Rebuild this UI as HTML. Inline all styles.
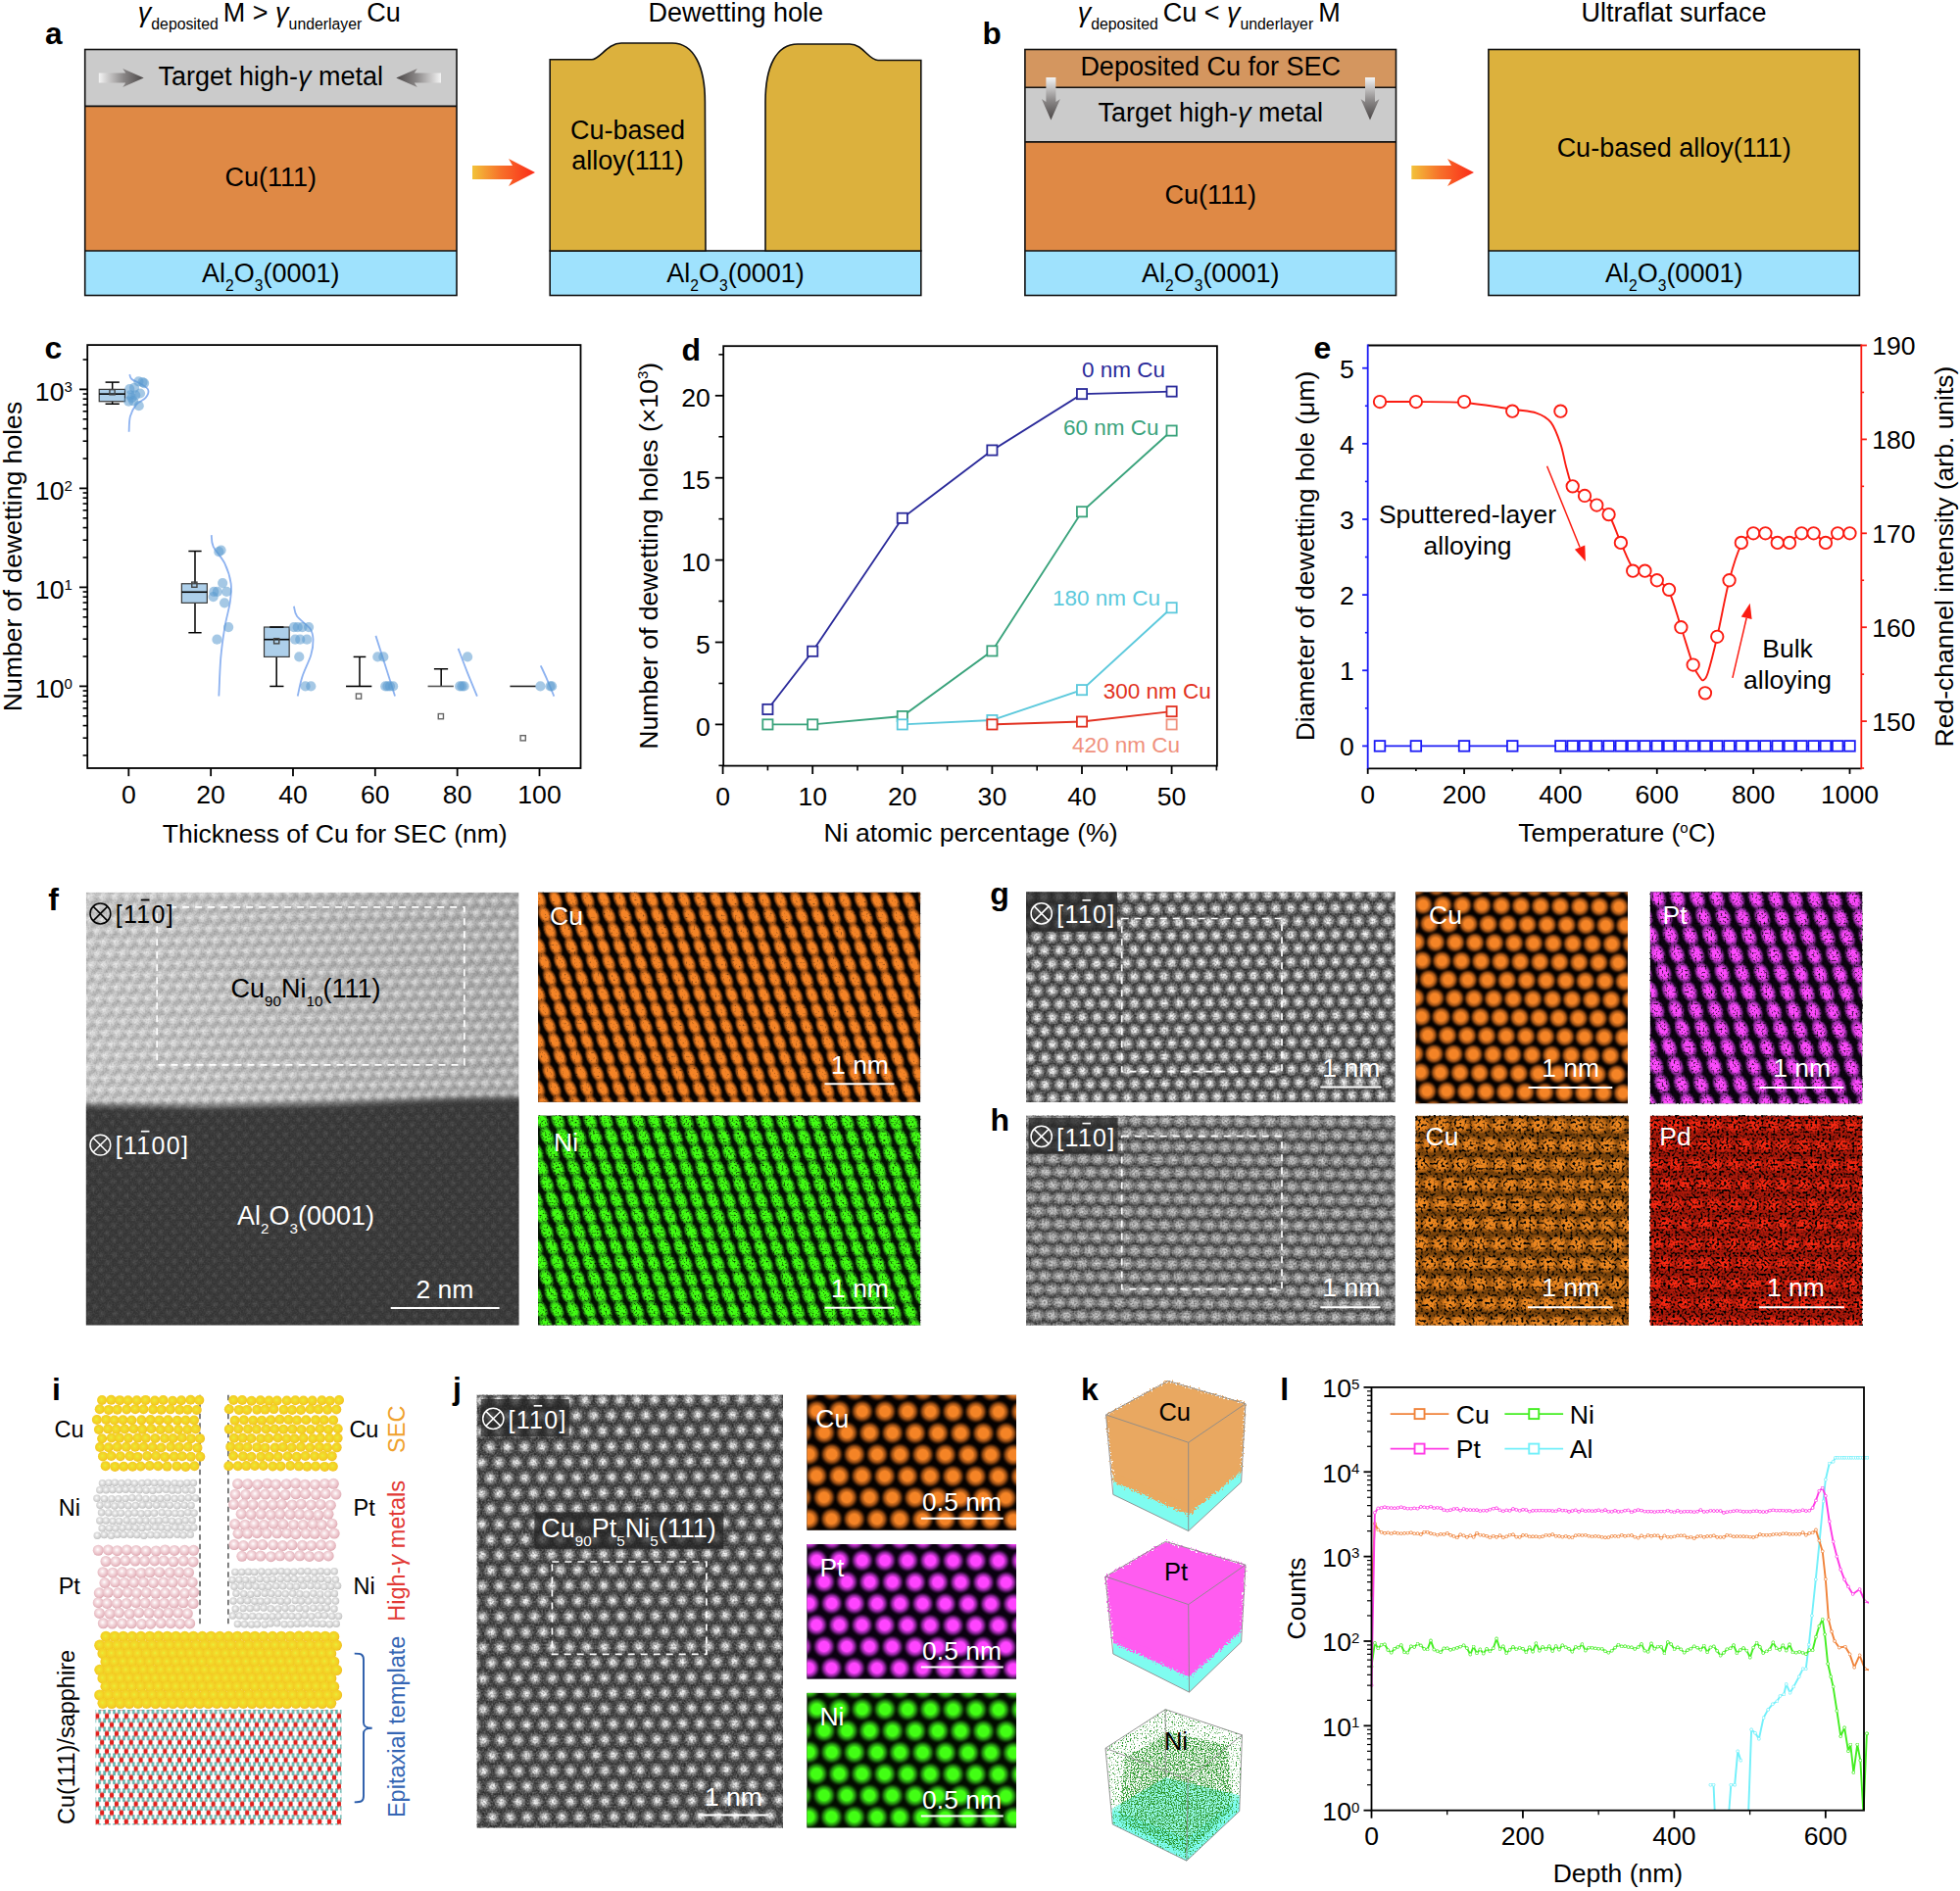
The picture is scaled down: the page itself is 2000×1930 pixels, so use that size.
<!DOCTYPE html>
<html><head><meta charset="utf-8"><title>Figure</title>
<style>html,body{margin:0;padding:0;background:#fff}svg{display:block}text{font-family:"Liberation Sans", sans-serif}</style>
</head><body>
<svg width="2000" height="1930" viewBox="0 0 2000 1930">
<defs>
<linearGradient id="gOR" x1="0" x2="1" y1="0" y2="0"><stop offset="0" stop-color="#f2c23a"/><stop offset="0.45" stop-color="#f7712a"/><stop offset="1" stop-color="#fb2a18"/></linearGradient>
<linearGradient id="gGR" x1="0" x2="1" y1="0" y2="0"><stop offset="0" stop-color="#f4f4f4"/><stop offset="0.55" stop-color="#8a8787"/><stop offset="1" stop-color="#4a4646"/></linearGradient>
<linearGradient id="gGL" x1="1" x2="0" y1="0" y2="0"><stop offset="0" stop-color="#f4f4f4"/><stop offset="0.55" stop-color="#8a8787"/><stop offset="1" stop-color="#4a4646"/></linearGradient>
<linearGradient id="gGD" x1="0" x2="0" y1="0" y2="1"><stop offset="0" stop-color="#f4f4f4"/><stop offset="0.55" stop-color="#8a8787"/><stop offset="1" stop-color="#4a4646"/></linearGradient>
<linearGradient id="fbg" x1="0" x2="1" y1="0" y2="0"><stop offset="0" stop-color="#cecece"/><stop offset="0.45" stop-color="#c2c2c2"/><stop offset="1" stop-color="#b0b0b0"/></linearGradient>
<clipPath id="fclip"><rect x="87.8" y="910.7" width="441.7" height="441.8"/></clipPath>
<radialGradient id="rg1"><stop offset="0" stop-color="#fff" stop-opacity="0.62"/><stop offset="0.45" stop-color="#fff" stop-opacity="0.35"/><stop offset="1" stop-color="#fff" stop-opacity="0"/></radialGradient>
<radialGradient id="rg2"><stop offset="0" stop-color="#000" stop-opacity="0.16"/><stop offset="1" stop-color="#000" stop-opacity="0"/></radialGradient>
<pattern id="fpat" width="12.7" height="11.6" patternUnits="userSpaceOnUse" patternTransform="translate(90.8 914.7) rotate(-1) matrix(1 0 0.5474 1 0 0)"><g transform="matrix(1 0 -0.5474 1 0 0)"><circle cx="0" cy="0" r="5.6" fill="url(#rg1)"/><circle cx="12.7" cy="0" r="5.6" fill="url(#rg1)"/><circle cx="6.35" cy="11.6" r="5.6" fill="url(#rg1)"/><circle cx="19.05" cy="11.6" r="5.6" fill="url(#rg1)"/><circle cx="-4.25" cy="3.83" r="4.5" fill="url(#rg2)"/><circle cx="8.45" cy="3.83" r="4.5" fill="url(#rg2)"/><circle cx="21.15" cy="3.83" r="4.5" fill="url(#rg2)"/><circle cx="2.1" cy="15.43" r="4.5" fill="url(#rg2)"/><circle cx="14.8" cy="15.43" r="4.5" fill="url(#rg2)"/><circle cx="-2.1" cy="-3.83" r="4.5" fill="url(#rg2)"/><circle cx="10.6" cy="-3.83" r="4.5" fill="url(#rg2)"/><circle cx="23.3" cy="-3.83" r="4.5" fill="url(#rg2)"/><circle cx="4.25" cy="7.77" r="4.5" fill="url(#rg2)"/><circle cx="16.95" cy="7.77" r="4.5" fill="url(#rg2)"/></g></pattern>
<radialGradient id="rg3"><stop offset="0" stop-color="#fff" stop-opacity="0.1"/><stop offset="1" stop-color="#fff" stop-opacity="0"/></radialGradient>
<pattern id="fpat2" width="13.6" height="7.5" patternUnits="userSpaceOnUse" patternTransform="translate(89.8 913.7) rotate(-1) matrix(1 0 0.9067 1 0 0)"><g transform="matrix(1 0 -0.9067 1 0 0)"><circle cx="0" cy="0" r="4.2" fill="url(#rg3)"/><circle cx="13.6" cy="0" r="4.2" fill="url(#rg3)"/><circle cx="6.8" cy="7.5" r="4.2" fill="url(#rg3)"/><circle cx="20.4" cy="7.5" r="4.2" fill="url(#rg3)"/></g></pattern>
<filter id="fblur" x="-5%" y="-10%" width="110%" height="120%"><feGaussianBlur stdDeviation="3.2"/></filter>
<filter id="fnz" x="0" y="0" width="100%" height="100%" color-interpolation-filters="sRGB"><feTurbulence type="fractalNoise" baseFrequency="0.6" numOctaves="1" seed="5"/><feColorMatrix type="matrix" values="0 0 0 0 0 0 0 0 0 0 0 0 0 0 0 0.3 0 0 0 -0.12"/></filter>
<filter id="fnzw" x="0" y="0" width="100%" height="100%" color-interpolation-filters="sRGB"><feTurbulence type="fractalNoise" baseFrequency="0.6" numOctaves="1" seed="9"/><feColorMatrix type="matrix" values="0 0 0 0 1 0 0 0 0 1 0 0 0 0 1 0.2 0 0 0 -0.09"/></filter>
<radialGradient id="rg4"><stop offset="0" stop-color="#f58426"/><stop offset="0.45" stop-color="#f58426"/><stop offset="0.72" stop-color="#c4641a" stop-opacity="0.75"/><stop offset="1" stop-color="#7a3c0c" stop-opacity="0"/></radialGradient>
<pattern id="fcu" width="16.4" height="16.1" patternUnits="userSpaceOnUse" patternTransform="translate(550.5 917.6) rotate(0.3) matrix(1 0 0.3385 1 0 0)"><g transform="matrix(1 0 -0.3385 1 0 0)"><ellipse cx="0" cy="0" rx="7" ry="11.8" fill="url(#rg4)" transform="rotate(-25 0 0)"/><ellipse cx="16.4" cy="0" rx="7" ry="11.8" fill="url(#rg4)" transform="rotate(-25 16.4 0)"/><ellipse cx="5.45" cy="16.1" rx="7" ry="11.8" fill="url(#rg4)" transform="rotate(-25 5.45 16.1)"/><ellipse cx="21.85" cy="16.1" rx="7" ry="11.8" fill="url(#rg4)" transform="rotate(-25 21.85 16.1)"/></g></pattern>
<filter id="fcunz" x="0" y="0" width="100%" height="100%" color-interpolation-filters="sRGB"><feTurbulence type="fractalNoise" baseFrequency="0.5" numOctaves="1" seed="3"/><feColorMatrix type="matrix" values="0 0 0 0 0 0 0 0 0 0 0 0 0 0 0 2 0 0 0 -1.25"/></filter>
<radialGradient id="rg5"><stop offset="0" stop-color="#42ff14"/><stop offset="0.5" stop-color="#42ff14"/><stop offset="0.75" stop-color="#2fb018" stop-opacity="0.85"/><stop offset="1" stop-color="#1c6a10" stop-opacity="0"/></radialGradient>
<pattern id="fni" width="16.4" height="16.1" patternUnits="userSpaceOnUse" patternTransform="translate(553 1143.7) rotate(0.3) matrix(1 0 0.3385 1 0 0)"><g transform="matrix(1 0 -0.3385 1 0 0)"><ellipse cx="0" cy="0" rx="7.4" ry="12" fill="url(#rg5)" transform="rotate(-25 0 0)"/><ellipse cx="16.4" cy="0" rx="7.4" ry="12" fill="url(#rg5)" transform="rotate(-25 16.4 0)"/><ellipse cx="5.45" cy="16.1" rx="7.4" ry="12" fill="url(#rg5)" transform="rotate(-25 5.45 16.1)"/><ellipse cx="21.85" cy="16.1" rx="7.4" ry="12" fill="url(#rg5)" transform="rotate(-25 21.85 16.1)"/></g></pattern>
<filter id="fninz" x="0" y="0" width="100%" height="100%" color-interpolation-filters="sRGB"><feTurbulence type="fractalNoise" baseFrequency="0.55" numOctaves="1" seed="7"/><feColorMatrix type="matrix" values="0 0 0 0 0 0 0 0 0 0 0 0 0 0 0 3 0 0 0 -1.55"/></filter>
<radialGradient id="rg6"><stop offset="0" stop-color="#fff"/><stop offset="0.3" stop-color="#fff" stop-opacity="0.9"/><stop offset="0.6" stop-color="#fff" stop-opacity="0.4"/><stop offset="1" stop-color="#fff" stop-opacity="0"/></radialGradient>
<pattern id="gpat" width="15.25" height="13.7" patternUnits="userSpaceOnUse" patternTransform="translate(1050 915.4) rotate(-0.5) matrix(1 0 0.5547 1 0 0)"><g transform="matrix(1 0 -0.5547 1 0 0)"><circle cx="0" cy="0" r="7.9" fill="url(#rg6)"/><circle cx="15.25" cy="0" r="7.9" fill="url(#rg6)"/><circle cx="30.5" cy="0" r="7.9" fill="url(#rg6)"/><circle cx="-7.65" cy="13.7" r="7.9" fill="url(#rg6)"/><circle cx="7.6" cy="13.7" r="7.9" fill="url(#rg6)"/><circle cx="22.85" cy="13.7" r="7.9" fill="url(#rg6)"/></g></pattern>
<filter id="gnz" x="0" y="0" width="100%" height="100%" color-interpolation-filters="sRGB"><feTurbulence type="fractalNoise" baseFrequency="0.55" numOctaves="1" seed="11"/><feColorMatrix type="matrix" values="0 0 0 0 0 0 0 0 0 0 0 0 0 0 0 1 0 0 0 -0.38"/></filter>
<filter id="gnzw" x="0" y="0" width="100%" height="100%" color-interpolation-filters="sRGB"><feTurbulence type="fractalNoise" baseFrequency="0.55" numOctaves="1" seed="12"/><feColorMatrix type="matrix" values="0 0 0 0 1 0 0 0 0 1 0 0 0 0 1 0.7 0 0 0 -0.3"/></filter>
<radialGradient id="rg7"><stop offset="0" stop-color="#fff" stop-opacity="0.76"/><stop offset="0.35" stop-color="#fff" stop-opacity="0.62"/><stop offset="0.7" stop-color="#fff" stop-opacity="0.3"/><stop offset="1" stop-color="#fff" stop-opacity="0"/></radialGradient>
<pattern id="hpat" width="15.25" height="13.3" patternUnits="userSpaceOnUse" patternTransform="translate(1052 1142.8) rotate(0.4) matrix(1 0 0.5714 1 0 0)"><g transform="matrix(1 0 -0.5714 1 0 0)"><ellipse cx="0" cy="0" rx="9.4" ry="7.4" fill="url(#rg7)"/><ellipse cx="15.25" cy="0" rx="9.4" ry="7.4" fill="url(#rg7)"/><ellipse cx="30.5" cy="0" rx="9.4" ry="7.4" fill="url(#rg7)"/><ellipse cx="-7.65" cy="13.3" rx="9.4" ry="7.4" fill="url(#rg7)"/><ellipse cx="7.6" cy="13.3" rx="9.4" ry="7.4" fill="url(#rg7)"/><ellipse cx="22.85" cy="13.3" rx="9.4" ry="7.4" fill="url(#rg7)"/></g></pattern>
<radialGradient id="rg8"><stop offset="0" stop-color="#f58426"/><stop offset="0.42" stop-color="#f58426"/><stop offset="0.7" stop-color="#c0621a" stop-opacity="0.8"/><stop offset="1" stop-color="#5a2a08" stop-opacity="0"/></radialGradient>
<pattern id="gcu" width="20" height="19" patternUnits="userSpaceOnUse" patternTransform="translate(1452.1 923.5) rotate(0.6) matrix(1 0 0.3474 1 0 0)"><g transform="matrix(1 0 -0.3474 1 0 0)"><circle cx="0" cy="0" r="10.8" fill="url(#rg8)"/><circle cx="20" cy="0" r="10.8" fill="url(#rg8)"/><circle cx="6.6" cy="19" r="10.8" fill="url(#rg8)"/><circle cx="26.6" cy="19" r="10.8" fill="url(#rg8)"/></g></pattern>
<radialGradient id="rg9"><stop offset="0" stop-color="#ff4cff"/><stop offset="0.45" stop-color="#fb48fb"/><stop offset="0.75" stop-color="#9a30aa" stop-opacity="0.85"/><stop offset="1" stop-color="#3a0f44" stop-opacity="0"/></radialGradient>
<pattern id="gpt" width="20" height="19" patternUnits="userSpaceOnUse" patternTransform="translate(1691.9 916.4) rotate(0.6) matrix(1 0 0.3474 1 0 0)"><g transform="matrix(1 0 -0.3474 1 0 0)"><ellipse cx="0" cy="0" rx="8.7" ry="13" fill="url(#rg9)" transform="rotate(-24 0 0)"/><ellipse cx="20" cy="0" rx="8.7" ry="13" fill="url(#rg9)" transform="rotate(-24 20 0)"/><ellipse cx="6.6" cy="19" rx="8.7" ry="13" fill="url(#rg9)" transform="rotate(-24 6.6 19)"/><ellipse cx="26.6" cy="19" rx="8.7" ry="13" fill="url(#rg9)" transform="rotate(-24 26.6 19)"/></g></pattern>
<filter id="gptnz" x="0" y="0" width="100%" height="100%" color-interpolation-filters="sRGB"><feTurbulence type="fractalNoise" baseFrequency="0.5" numOctaves="1" seed="4"/><feColorMatrix type="matrix" values="0 0 0 0 0 0 0 0 0 0 0 0 0 0 0 3.4 0 0 0 -1.75"/></filter>
<radialGradient id="rg10"><stop offset="0" stop-color="#f08a22"/><stop offset="0.55" stop-color="#ec861f" stop-opacity="0.95"/><stop offset="1" stop-color="#e07a18" stop-opacity="0.25"/></radialGradient>
<pattern id="hcu" width="20" height="20.2" patternUnits="userSpaceOnUse" patternTransform="translate(1450.5 1147.8) rotate(0.3) matrix(1 0 0.4950 1 0 0)"><g transform="matrix(1 0 -0.4950 1 0 0)"><ellipse cx="0" cy="0" rx="10.5" ry="8.6" fill="url(#rg10)"/><ellipse cx="20" cy="0" rx="10.5" ry="8.6" fill="url(#rg10)"/><ellipse cx="40" cy="0" rx="10.5" ry="8.6" fill="url(#rg10)"/><ellipse cx="-10" cy="20.2" rx="10.5" ry="8.6" fill="url(#rg10)"/><ellipse cx="10" cy="20.2" rx="10.5" ry="8.6" fill="url(#rg10)"/><ellipse cx="30" cy="20.2" rx="10.5" ry="8.6" fill="url(#rg10)"/></g></pattern>
<filter id="hcunz" x="0" y="0" width="100%" height="100%" color-interpolation-filters="sRGB"><feTurbulence type="fractalNoise" baseFrequency="0.38" numOctaves="1" seed="8"/><feColorMatrix type="matrix" values="0 0 0 0 0 0 0 0 0 0 0 0 0 0 0 5 0 0 0 -2.52"/></filter>
<radialGradient id="rg11"><stop offset="0" stop-color="#ff2a14"/><stop offset="0.6" stop-color="#f02410" stop-opacity="0.8"/><stop offset="1" stop-color="#d01c0c" stop-opacity="0"/></radialGradient>
<pattern id="hpd" width="20" height="20.2" patternUnits="userSpaceOnUse" patternTransform="translate(1689.9 1147.8) rotate(0.3) matrix(1 0 0.4950 1 0 0)"><g transform="matrix(1 0 -0.4950 1 0 0)"><ellipse cx="0" cy="0" rx="11.5" ry="8.6" fill="url(#rg11)"/><ellipse cx="20" cy="0" rx="11.5" ry="8.6" fill="url(#rg11)"/><ellipse cx="40" cy="0" rx="11.5" ry="8.6" fill="url(#rg11)"/><ellipse cx="-10" cy="20.2" rx="11.5" ry="8.6" fill="url(#rg11)"/><ellipse cx="10" cy="20.2" rx="11.5" ry="8.6" fill="url(#rg11)"/><ellipse cx="30" cy="20.2" rx="11.5" ry="8.6" fill="url(#rg11)"/></g></pattern>
<filter id="hpdnz" x="0" y="0" width="100%" height="100%" color-interpolation-filters="sRGB"><feTurbulence type="fractalNoise" baseFrequency="0.42" numOctaves="1" seed="15"/><feColorMatrix type="matrix" values="0 0 0 0 0 0 0 0 0 0 0 0 0 0 0 5 0 0 0 -2.38"/></filter>
<radialGradient id="aY" cx="0.45" cy="0.45" r="0.6"><stop offset="0" stop-color="#e2f23c"/><stop offset="0.22" stop-color="#f2de2c"/><stop offset="0.75" stop-color="#f3cc22"/><stop offset="1" stop-color="#efb21e"/></radialGradient>
<radialGradient id="aG" cx="0.45" cy="0.42" r="0.62"><stop offset="0" stop-color="#ffffff"/><stop offset="0.35" stop-color="#e4e4e4"/><stop offset="0.8" stop-color="#cacaca"/><stop offset="1" stop-color="#b4b4b4"/></radialGradient>
<radialGradient id="aP" cx="0.45" cy="0.42" r="0.62"><stop offset="0" stop-color="#ffffff"/><stop offset="0.3" stop-color="#f6dfe3"/><stop offset="0.78" stop-color="#e6b8c0"/><stop offset="1" stop-color="#d69ca6"/></radialGradient>
<circle id="cY" r="5" fill="url(#aY)"/><circle id="cG" r="3.75" fill="url(#aG)"/><circle id="cP" r="5.5" fill="url(#aP)"/><circle id="cZ" r="5.6" fill="url(#aY)"/>
<pattern id="sap" width="9.87" height="17.95" patternUnits="userSpaceOnUse" patternTransform="translate(99.2 1751.4)"><line x1="0" y1="0" x2="1.65" y2="-2.05" stroke="#e0201c" stroke-width="1"/><line x1="1.65" y1="-2.05" x2="2.66" y2="-3.3" stroke="#5db5ae" stroke-width="0.8"/><line x1="0" y1="0" x2="1.65" y2="2.05" stroke="#e0201c" stroke-width="1"/><line x1="1.65" y1="2.05" x2="2.66" y2="3.3" stroke="#5db5ae" stroke-width="0.8"/><line x1="0" y1="0" x2="1.41" y2="3.52" stroke="#e0201c" stroke-width="1"/><line x1="1.41" y1="3.52" x2="2.27" y2="5.67" stroke="#5db5ae" stroke-width="0.8"/><line x1="9.87" y1="0" x2="8.22" y2="-2.05" stroke="#e0201c" stroke-width="1"/><line x1="8.22" y1="-2.05" x2="7.21" y2="-3.3" stroke="#5db5ae" stroke-width="0.8"/><line x1="9.87" y1="0" x2="8.22" y2="2.05" stroke="#e0201c" stroke-width="1"/><line x1="8.22" y1="2.05" x2="7.21" y2="3.3" stroke="#5db5ae" stroke-width="0.8"/><line x1="9.87" y1="0" x2="8.46" y2="3.52" stroke="#e0201c" stroke-width="1"/><line x1="8.46" y1="3.52" x2="7.6" y2="5.67" stroke="#5db5ae" stroke-width="0.8"/><line x1="9.87" y1="0" x2="8.46" y2="3.52" stroke="#e0201c" stroke-width="1"/><line x1="8.46" y1="3.52" x2="7.6" y2="5.67" stroke="#5db5ae" stroke-width="0.8"/><line x1="4.93" y1="8.97" x2="3.53" y2="5.46" stroke="#e0201c" stroke-width="1"/><line x1="3.53" y1="5.46" x2="2.66" y2="3.3" stroke="#5db5ae" stroke-width="0.8"/><line x1="4.93" y1="8.97" x2="6.34" y2="5.46" stroke="#e0201c" stroke-width="1"/><line x1="6.34" y1="5.46" x2="7.21" y2="3.3" stroke="#5db5ae" stroke-width="0.8"/><line x1="4.93" y1="8.97" x2="6.59" y2="6.93" stroke="#e0201c" stroke-width="1"/><line x1="6.59" y1="6.93" x2="7.6" y2="5.67" stroke="#5db5ae" stroke-width="0.8"/><line x1="4.93" y1="8.97" x2="3.28" y2="6.93" stroke="#e0201c" stroke-width="1"/><line x1="3.28" y1="6.93" x2="2.27" y2="5.67" stroke="#5db5ae" stroke-width="0.8"/><line x1="4.93" y1="8.97" x2="3.28" y2="11.02" stroke="#e0201c" stroke-width="1"/><line x1="3.28" y1="11.02" x2="2.27" y2="12.27" stroke="#5db5ae" stroke-width="0.8"/><line x1="4.93" y1="8.97" x2="6.59" y2="11.02" stroke="#e0201c" stroke-width="1"/><line x1="6.59" y1="11.02" x2="7.6" y2="12.27" stroke="#5db5ae" stroke-width="0.8"/><line x1="4.93" y1="8.97" x2="6.59" y2="6.93" stroke="#e0201c" stroke-width="1"/><line x1="6.59" y1="6.93" x2="7.6" y2="5.67" stroke="#5db5ae" stroke-width="0.8"/><line x1="4.93" y1="8.97" x2="3.53" y2="12.49" stroke="#e0201c" stroke-width="1"/><line x1="3.53" y1="12.49" x2="2.66" y2="14.65" stroke="#5db5ae" stroke-width="0.8"/><line x1="4.93" y1="8.97" x2="6.34" y2="12.49" stroke="#e0201c" stroke-width="1"/><line x1="6.34" y1="12.49" x2="7.21" y2="14.65" stroke="#5db5ae" stroke-width="0.8"/><line x1="0" y1="17.95" x2="1.41" y2="14.43" stroke="#e0201c" stroke-width="1"/><line x1="1.41" y1="14.43" x2="2.27" y2="12.27" stroke="#5db5ae" stroke-width="0.8"/><line x1="0" y1="17.95" x2="1.65" y2="15.9" stroke="#e0201c" stroke-width="1"/><line x1="1.65" y1="15.9" x2="2.66" y2="14.65" stroke="#5db5ae" stroke-width="0.8"/><line x1="0" y1="17.95" x2="1.65" y2="20" stroke="#e0201c" stroke-width="1"/><line x1="1.65" y1="20" x2="2.66" y2="21.25" stroke="#5db5ae" stroke-width="0.8"/><line x1="9.87" y1="17.95" x2="8.46" y2="14.43" stroke="#e0201c" stroke-width="1"/><line x1="8.46" y1="14.43" x2="7.6" y2="12.27" stroke="#5db5ae" stroke-width="0.8"/><line x1="9.87" y1="17.95" x2="8.22" y2="15.9" stroke="#e0201c" stroke-width="1"/><line x1="8.22" y1="15.9" x2="7.21" y2="14.65" stroke="#5db5ae" stroke-width="0.8"/><line x1="9.87" y1="17.95" x2="8.22" y2="20" stroke="#e0201c" stroke-width="1"/><line x1="8.22" y1="20" x2="7.21" y2="21.25" stroke="#5db5ae" stroke-width="0.8"/><line x1="2.47" y1="3.3" x2="2.47" y2="5.67" stroke="#5db5ae" stroke-width="0.8"/><line x1="2.47" y1="12.27" x2="2.47" y2="14.65" stroke="#5db5ae" stroke-width="0.8"/><line x1="7.4" y1="3.3" x2="7.4" y2="5.67" stroke="#5db5ae" stroke-width="0.8"/><line x1="7.4" y1="12.27" x2="7.4" y2="14.65" stroke="#5db5ae" stroke-width="0.8"/><circle cx="2.66" cy="-3.3" r="1.2" fill="#5db5ae"/><circle cx="7.21" cy="-3.3" r="1.2" fill="#5db5ae"/><circle cx="2.66" cy="3.3" r="1.2" fill="#5db5ae"/><circle cx="7.21" cy="3.3" r="1.2" fill="#5db5ae"/><circle cx="7.6" cy="5.67" r="1.2" fill="#5db5ae"/><circle cx="2.27" cy="5.67" r="1.2" fill="#5db5ae"/><circle cx="2.27" cy="12.27" r="1.2" fill="#5db5ae"/><circle cx="7.6" cy="12.27" r="1.2" fill="#5db5ae"/><circle cx="7.6" cy="5.67" r="1.2" fill="#5db5ae"/><circle cx="2.66" cy="14.65" r="1.2" fill="#5db5ae"/><circle cx="7.21" cy="14.65" r="1.2" fill="#5db5ae"/><circle cx="2.66" cy="21.25" r="1.2" fill="#5db5ae"/><circle cx="7.21" cy="21.25" r="1.2" fill="#5db5ae"/><circle cx="0" cy="0" r="2.25" fill="#e0201c"/><circle cx="9.87" cy="0" r="2.25" fill="#e0201c"/><circle cx="4.93" cy="8.97" r="2.25" fill="#e0201c"/><circle cx="0" cy="17.95" r="2.25" fill="#e0201c"/><circle cx="9.87" cy="17.95" r="2.25" fill="#e0201c"/><circle cx="-4.93" cy="8.97" r="2.25" fill="#e0201c"/><circle cx="14.8" cy="8.97" r="2.25" fill="#e0201c"/></pattern>
<radialGradient id="rg12"><stop offset="0" stop-color="#fff"/><stop offset="0.27" stop-color="#fff" stop-opacity="0.9"/><stop offset="0.58" stop-color="#fff" stop-opacity="0.4"/><stop offset="1" stop-color="#fff" stop-opacity="0"/></radialGradient>
<pattern id="jpat" width="17.7" height="15.75" patternUnits="userSpaceOnUse" patternTransform="translate(490.8 1429.8) rotate(-0.4) matrix(1 0 0.5619 1 0 0)"><g transform="matrix(1 0 -0.5619 1 0 0)"><circle cx="0" cy="0" r="7.9" fill="url(#rg12)"/><circle cx="17.7" cy="0" r="7.9" fill="url(#rg12)"/><circle cx="8.85" cy="15.75" r="7.9" fill="url(#rg12)"/><circle cx="26.55" cy="15.75" r="7.9" fill="url(#rg12)"/></g></pattern>
<filter id="jnz" x="0" y="0" width="100%" height="100%" color-interpolation-filters="sRGB"><feTurbulence type="fractalNoise" baseFrequency="0.55" numOctaves="1" seed="21"/><feColorMatrix type="matrix" values="0 0 0 0 0 0 0 0 0 0 0 0 0 0 0 1 0 0 0 -0.38"/></filter>
<filter id="jnzw" x="0" y="0" width="100%" height="100%" color-interpolation-filters="sRGB"><feTurbulence type="fractalNoise" baseFrequency="0.55" numOctaves="1" seed="22"/><feColorMatrix type="matrix" values="0 0 0 0 1 0 0 0 0 1 0 0 0 0 1 0.7 0 0 0 -0.3"/></filter>
<radialGradient id="rg13"><stop offset="0" stop-color="#f58426"/><stop offset="0.42" stop-color="#f58426"/><stop offset="0.7" stop-color="#b45a16" stop-opacity="0.8"/><stop offset="1" stop-color="#5a2a08" stop-opacity="0"/></radialGradient>
<pattern id="jcu" width="23.2" height="22" patternUnits="userSpaceOnUse" patternTransform="translate(833.4 1440.2) rotate(0.2) matrix(1 0 0.3514 1 0 0)"><g transform="matrix(1 0 -0.3514 1 0 0)"><circle cx="0" cy="0" r="12" fill="url(#rg13)"/><circle cx="23.2" cy="0" r="12" fill="url(#rg13)"/><circle cx="7.73" cy="22" r="12" fill="url(#rg13)"/><circle cx="30.93" cy="22" r="12" fill="url(#rg13)"/></g></pattern>
<radialGradient id="rg14"><stop offset="0" stop-color="#ff44ff"/><stop offset="0.42" stop-color="#ff44ff"/><stop offset="0.7" stop-color="#a02ab0" stop-opacity="0.8"/><stop offset="1" stop-color="#40104a" stop-opacity="0"/></radialGradient>
<pattern id="jpt" width="23.2" height="22" patternUnits="userSpaceOnUse" patternTransform="translate(833.4 1592.4) rotate(0.2) matrix(1 0 0.3514 1 0 0)"><g transform="matrix(1 0 -0.3514 1 0 0)"><circle cx="0" cy="0" r="12" fill="url(#rg14)"/><circle cx="23.2" cy="0" r="12" fill="url(#rg14)"/><circle cx="7.73" cy="22" r="12" fill="url(#rg14)"/><circle cx="30.93" cy="22" r="12" fill="url(#rg14)"/></g></pattern>
<radialGradient id="rg15"><stop offset="0" stop-color="#42ff14"/><stop offset="0.42" stop-color="#42ff14"/><stop offset="0.7" stop-color="#2aa014" stop-opacity="0.8"/><stop offset="1" stop-color="#124a08" stop-opacity="0"/></radialGradient>
<pattern id="jni" width="23.2" height="22" patternUnits="userSpaceOnUse" patternTransform="translate(833.4 1744.3) rotate(0.2) matrix(1 0 0.3514 1 0 0)"><g transform="matrix(1 0 -0.3514 1 0 0)"><circle cx="0" cy="0" r="12.4" fill="url(#rg15)"/><circle cx="23.2" cy="0" r="12.4" fill="url(#rg15)"/><circle cx="7.73" cy="22" r="12.4" fill="url(#rg15)"/><circle cx="30.93" cy="22" r="12.4" fill="url(#rg15)"/></g></pattern>
<filter id="krag" x="-10%" y="-10%" width="120%" height="120%"><feTurbulence type="fractalNoise" baseFrequency="0.55" numOctaves="2" seed="4"/><feDisplacementMap in="SourceGraphic" scale="9" xChannelSelector="R" yChannelSelector="G"/></filter>
<filter id="kspk" x="0" y="0" width="100%" height="100%" color-interpolation-filters="sRGB"><feTurbulence type="fractalNoise" baseFrequency="0.9" numOctaves="1" seed="31"/><feColorMatrix type="matrix" values="0 0 0 0 1 0 0 0 0 1 0 0 0 0 1 4 0 0 0 -2.15"/></filter>
<filter id="kgrn" x="0" y="0" width="100%" height="100%" color-interpolation-filters="sRGB"><feTurbulence type="fractalNoise" baseFrequency="0.75" numOctaves="1" seed="17"/><feColorMatrix type="matrix" values="0 0 0 0 0.16 0 0 0 0 0.59 0 0 0 0 0.16 7 0 0 0 -3.9"/></filter>
<filter id="kgrn2" x="0" y="0" width="100%" height="100%" color-interpolation-filters="sRGB"><feTurbulence type="fractalNoise" baseFrequency="0.75" numOctaves="1" seed="23"/><feColorMatrix type="matrix" values="0 0 0 0 0.16 0 0 0 0 0.59 0 0 0 0 0.16 7 0 0 0 -3.35"/></filter>
<clipPath id="kniclip"><path d="M1128 1784.28 L1189.22 1744.64 L1267.43 1770.8 L1264.74 1848.47 L1210.8 1899.17 L1135.29 1861.95Z"/></clipPath>
<clipPath id="kniclip2"><path d="M1147.42 1794.53 L1193.27 1767.56 L1252.6 1781.05 L1257.99 1845.77 L1210.8 1891.62 L1142.03 1859.26Z"/></clipPath>
<clipPath id="lclip"><rect x="1398.5" y="1415.9" width="508.5" height="431.8"/></clipPath>
<marker id="mO" markerWidth="4" markerHeight="4" refX="2" refY="2" markerUnits="userSpaceOnUse"><circle cx="2" cy="2" r="1.5" fill="#fff" stroke="#f0833a" stroke-width="0.8"/></marker>
<marker id="mP" markerWidth="4" markerHeight="4" refX="2" refY="2" markerUnits="userSpaceOnUse"><circle cx="2" cy="2" r="1.5" fill="#fff" stroke="#ff3be6" stroke-width="0.8"/></marker>
<marker id="mG" markerWidth="4" markerHeight="4" refX="2" refY="2" markerUnits="userSpaceOnUse"><circle cx="2" cy="2" r="1.5" fill="#fff" stroke="#44ee22" stroke-width="0.8"/></marker>
<marker id="mC" markerWidth="4" markerHeight="4" refX="2" refY="2" markerUnits="userSpaceOnUse"><circle cx="2" cy="2" r="1.5" fill="#fff" stroke="#72f0fa" stroke-width="0.8"/></marker>
</defs>
<rect width="2000" height="1930" fill="#fff"/>
<g id="p_ab">
<rect x="86.7" y="50.5" width="379.3" height="57.9" fill="#cbcbcb"/>
<rect x="86.7" y="108.4" width="379.3" height="147.6" fill="#df8945"/>
<rect x="86.7" y="256" width="379.3" height="45.5" fill="#9fe2fd"/>
<rect x="86.7" y="50.5" width="379.3" height="251" fill="none" stroke="#111" stroke-width="1.6"/>
<line x1="86.7" y1="108.4" x2="466" y2="108.4" stroke="#111" stroke-width="1.6"/>
<line x1="86.7" y1="256" x2="466" y2="256" stroke="#111" stroke-width="1.6"/>
<path d="M100.8 74.6 L128.2 74.6 L125.2 70.1 L146.7 79.6 L125.2 89.1 L128.2 84.6 L100.8 84.6Z" fill="url(#gGR)"/>
<path d="M450 74.6 L422.8 74.6 L425.8 70.1 L404.3 79.6 L425.8 89.1 L422.8 84.6 L450 84.6Z" fill="url(#gGL)"/>
<text x="276.3" y="86.7" font-size="27" text-anchor="middle">Target high-<tspan font-style="italic">γ</tspan> metal</text>
<text x="276.3" y="190" font-size="27" text-anchor="middle">Cu(111)</text>
<text x="276.3" y="288.3" font-size="27" text-anchor="middle">Al<tspan dy="8.3" font-size="15.6">2</tspan><tspan dy="-8.3" font-size="1">&#8203;</tspan>O<tspan dy="8.3" font-size="15.6">3</tspan><tspan dy="-8.3" font-size="1">&#8203;</tspan>(0001)</text>
<text x="274.8" y="22.4" font-size="27" text-anchor="middle"><tspan font-style="italic">γ</tspan><tspan dy="8" font-size="15.8">deposited</tspan><tspan dy="-8" font-size="1">&#8203;</tspan><tspan dx="5">M &gt; </tspan><tspan font-style="italic">γ</tspan><tspan dy="8" font-size="15.8">underlayer</tspan><tspan dy="-8" font-size="1">&#8203;</tspan><tspan dx="5">Cu</tspan></text>
<text x="46" y="44.6" font-size="31.5" font-weight="bold">a</text>
<path d="M482 169 L523 169 L519 162 L546 176 L519 190 L523 183 L482 183Z" fill="url(#gOR)"/>
<rect x="561.2" y="256" width="378.6" height="45.5" fill="#9fe2fd" stroke="#111" stroke-width="1.6"/>
<path d="M561.2 256 L561.2 60.7 L604 60.7 C612 60.7 620 44 634 44 L686 44 C708 44 719.4 68 719.4 104 L720 256 Z" fill="#dcb13d" stroke="#111" stroke-width="1.6"/>
<path d="M781 256 L781 104 C781 68 792 45 814 45 L867 45 C881 45 886 61.5 896 61.5 L939.8 61.5 L939.8 256 Z" fill="#dcb13d" stroke="#111" stroke-width="1.6"/>
<text x="640.5" y="141.5" font-size="27" text-anchor="middle">Cu-based</text>
<text x="640.5" y="173" font-size="27" text-anchor="middle">alloy(111)</text>
<text x="750.5" y="288.3" font-size="27" text-anchor="middle">Al<tspan dy="8.3" font-size="15.6">2</tspan><tspan dy="-8.3" font-size="1">&#8203;</tspan>O<tspan dy="8.3" font-size="15.6">3</tspan><tspan dy="-8.3" font-size="1">&#8203;</tspan>(0001)</text>
<text x="750.8" y="22.4" font-size="27" text-anchor="middle">Dewetting hole</text>
<rect x="1045.9" y="50.5" width="378.6" height="38.8" fill="#d4965f"/>
<rect x="1045.9" y="89.3" width="378.6" height="55.6" fill="#cbcbcb"/>
<rect x="1045.9" y="144.9" width="378.6" height="111.1" fill="#df8945"/>
<rect x="1045.9" y="256" width="378.6" height="45.5" fill="#9fe2fd"/>
<rect x="1045.9" y="50.5" width="378.6" height="251" fill="none" stroke="#111" stroke-width="1.6"/>
<line x1="1045.9" y1="89.3" x2="1424.5" y2="89.3" stroke="#111" stroke-width="1.6"/>
<line x1="1045.9" y1="144.9" x2="1424.5" y2="144.9" stroke="#111" stroke-width="1.6"/>
<line x1="1045.9" y1="256" x2="1424.5" y2="256" stroke="#111" stroke-width="1.6"/>
<path d="M1067.4 79 L1067.4 103.9 L1062.9 100.9 L1072.4 122.4 L1081.9 100.9 L1077.4 103.9 L1077.4 79Z" fill="url(#gGD)"/>
<path d="M1393 79 L1393 103.9 L1388.5 100.9 L1398 122.4 L1407.5 100.9 L1403 103.9 L1403 79Z" fill="url(#gGD)"/>
<text x="1235.2" y="76.5" font-size="27" text-anchor="middle">Deposited Cu for SEC</text>
<text x="1235.2" y="124" font-size="27" text-anchor="middle">Target high-<tspan font-style="italic">γ</tspan> metal</text>
<text x="1235.2" y="208.2" font-size="27" text-anchor="middle">Cu(111)</text>
<text x="1235.2" y="288.3" font-size="27" text-anchor="middle">Al<tspan dy="8.3" font-size="15.6">2</tspan><tspan dy="-8.3" font-size="1">&#8203;</tspan>O<tspan dy="8.3" font-size="15.6">3</tspan><tspan dy="-8.3" font-size="1">&#8203;</tspan>(0001)</text>
<text x="1233.7" y="22.4" font-size="27" text-anchor="middle"><tspan font-style="italic">γ</tspan><tspan dy="8" font-size="15.8">deposited</tspan><tspan dy="-8" font-size="1">&#8203;</tspan><tspan dx="5">Cu &lt; </tspan><tspan font-style="italic">γ</tspan><tspan dy="8" font-size="15.8">underlayer</tspan><tspan dy="-8" font-size="1">&#8203;</tspan><tspan dx="5">M</tspan></text>
<text x="1002.5" y="44.6" font-size="31.5" font-weight="bold">b</text>
<path d="M1440.3 169 L1481 169 L1477 162 L1504 176 L1477 190 L1481 183 L1440.3 183Z" fill="url(#gOR)"/>
<rect x="1518.9" y="50.5" width="378.5" height="205.5" fill="#dcb13d"/>
<rect x="1518.9" y="256" width="378.5" height="45.5" fill="#9fe2fd"/>
<rect x="1518.9" y="50.5" width="378.5" height="251" fill="none" stroke="#111" stroke-width="1.6"/>
<line x1="1518.9" y1="256" x2="1897.4" y2="256" stroke="#111" stroke-width="1.6"/>
<text x="1708.2" y="159.7" font-size="27" text-anchor="middle">Cu-based alloy(111)</text>
<text x="1708.2" y="288.3" font-size="27" text-anchor="middle">Al<tspan dy="8.3" font-size="15.6">2</tspan><tspan dy="-8.3" font-size="1">&#8203;</tspan>O<tspan dy="8.3" font-size="15.6">3</tspan><tspan dy="-8.3" font-size="1">&#8203;</tspan>(0001)</text>
<text x="1708" y="22.4" font-size="27" text-anchor="middle">Ultraflat surface</text>
</g>
<g id="p_c">
<rect x="89.2" y="352.1" width="503.3" height="431.9" fill="none" stroke="#000" stroke-width="1.8"/>
<line x1="131.3" y1="784" x2="131.3" y2="792.2" stroke="#000" stroke-width="1.8"/>
<text x="131.3" y="820.2" font-size="26.6" text-anchor="middle">0</text>
<line x1="215.14" y1="784" x2="215.14" y2="792.2" stroke="#000" stroke-width="1.8"/>
<text x="215.14" y="820.2" font-size="26.6" text-anchor="middle">20</text>
<line x1="298.98" y1="784" x2="298.98" y2="792.2" stroke="#000" stroke-width="1.8"/>
<text x="298.98" y="820.2" font-size="26.6" text-anchor="middle">40</text>
<line x1="382.82" y1="784" x2="382.82" y2="792.2" stroke="#000" stroke-width="1.8"/>
<text x="382.82" y="820.2" font-size="26.6" text-anchor="middle">60</text>
<line x1="466.66" y1="784" x2="466.66" y2="792.2" stroke="#000" stroke-width="1.8"/>
<text x="466.66" y="820.2" font-size="26.6" text-anchor="middle">80</text>
<line x1="550.5" y1="784" x2="550.5" y2="792.2" stroke="#000" stroke-width="1.8"/>
<text x="550.5" y="820.2" font-size="26.6" text-anchor="middle">100</text>
<line x1="81" y1="700.4" x2="89.2" y2="700.4" stroke="#000" stroke-width="1.8"/>
<text x="73.8" y="711.7" font-size="26.6" text-anchor="end">10<tspan dy="-8.6" font-size="15">0</tspan><tspan dy="8.6" font-size="1">&#8203;</tspan></text>
<line x1="81" y1="599.4" x2="89.2" y2="599.4" stroke="#000" stroke-width="1.8"/>
<text x="73.8" y="610.7" font-size="26.6" text-anchor="end">10<tspan dy="-8.6" font-size="15">1</tspan><tspan dy="8.6" font-size="1">&#8203;</tspan></text>
<line x1="81" y1="498.4" x2="89.2" y2="498.4" stroke="#000" stroke-width="1.8"/>
<text x="73.8" y="509.7" font-size="26.6" text-anchor="end">10<tspan dy="-8.6" font-size="15">2</tspan><tspan dy="8.6" font-size="1">&#8203;</tspan></text>
<line x1="81" y1="397.4" x2="89.2" y2="397.4" stroke="#000" stroke-width="1.8"/>
<text x="73.8" y="408.7" font-size="26.6" text-anchor="end">10<tspan dy="-8.6" font-size="15">3</tspan><tspan dy="8.6" font-size="1">&#8203;</tspan></text>
<line x1="84.6" y1="771" x2="89.2" y2="771" stroke="#000" stroke-width="1.6"/>
<line x1="84.6" y1="753.21" x2="89.2" y2="753.21" stroke="#000" stroke-width="1.6"/>
<line x1="84.6" y1="740.59" x2="89.2" y2="740.59" stroke="#000" stroke-width="1.6"/>
<line x1="84.6" y1="730.8" x2="89.2" y2="730.8" stroke="#000" stroke-width="1.6"/>
<line x1="84.6" y1="722.81" x2="89.2" y2="722.81" stroke="#000" stroke-width="1.6"/>
<line x1="84.6" y1="716.05" x2="89.2" y2="716.05" stroke="#000" stroke-width="1.6"/>
<line x1="84.6" y1="710.19" x2="89.2" y2="710.19" stroke="#000" stroke-width="1.6"/>
<line x1="84.6" y1="705.02" x2="89.2" y2="705.02" stroke="#000" stroke-width="1.6"/>
<line x1="84.6" y1="670" x2="89.2" y2="670" stroke="#000" stroke-width="1.6"/>
<line x1="84.6" y1="652.21" x2="89.2" y2="652.21" stroke="#000" stroke-width="1.6"/>
<line x1="84.6" y1="639.59" x2="89.2" y2="639.59" stroke="#000" stroke-width="1.6"/>
<line x1="84.6" y1="629.8" x2="89.2" y2="629.8" stroke="#000" stroke-width="1.6"/>
<line x1="84.6" y1="621.81" x2="89.2" y2="621.81" stroke="#000" stroke-width="1.6"/>
<line x1="84.6" y1="615.05" x2="89.2" y2="615.05" stroke="#000" stroke-width="1.6"/>
<line x1="84.6" y1="609.19" x2="89.2" y2="609.19" stroke="#000" stroke-width="1.6"/>
<line x1="84.6" y1="604.02" x2="89.2" y2="604.02" stroke="#000" stroke-width="1.6"/>
<line x1="84.6" y1="569" x2="89.2" y2="569" stroke="#000" stroke-width="1.6"/>
<line x1="84.6" y1="551.21" x2="89.2" y2="551.21" stroke="#000" stroke-width="1.6"/>
<line x1="84.6" y1="538.59" x2="89.2" y2="538.59" stroke="#000" stroke-width="1.6"/>
<line x1="84.6" y1="528.8" x2="89.2" y2="528.8" stroke="#000" stroke-width="1.6"/>
<line x1="84.6" y1="520.81" x2="89.2" y2="520.81" stroke="#000" stroke-width="1.6"/>
<line x1="84.6" y1="514.05" x2="89.2" y2="514.05" stroke="#000" stroke-width="1.6"/>
<line x1="84.6" y1="508.19" x2="89.2" y2="508.19" stroke="#000" stroke-width="1.6"/>
<line x1="84.6" y1="503.02" x2="89.2" y2="503.02" stroke="#000" stroke-width="1.6"/>
<line x1="84.6" y1="468" x2="89.2" y2="468" stroke="#000" stroke-width="1.6"/>
<line x1="84.6" y1="450.21" x2="89.2" y2="450.21" stroke="#000" stroke-width="1.6"/>
<line x1="84.6" y1="437.59" x2="89.2" y2="437.59" stroke="#000" stroke-width="1.6"/>
<line x1="84.6" y1="427.8" x2="89.2" y2="427.8" stroke="#000" stroke-width="1.6"/>
<line x1="84.6" y1="419.81" x2="89.2" y2="419.81" stroke="#000" stroke-width="1.6"/>
<line x1="84.6" y1="413.05" x2="89.2" y2="413.05" stroke="#000" stroke-width="1.6"/>
<line x1="84.6" y1="407.19" x2="89.2" y2="407.19" stroke="#000" stroke-width="1.6"/>
<line x1="84.6" y1="402.02" x2="89.2" y2="402.02" stroke="#000" stroke-width="1.6"/>
<line x1="84.6" y1="367" x2="89.2" y2="367" stroke="#000" stroke-width="1.6"/>
<text x="341.7" y="859.7" font-size="26.5" text-anchor="middle">Thickness of Cu for SEC (nm)</text>
<text font-size="26.6" text-anchor="middle" transform="translate(21.6 568) rotate(-90)">Number of dewetting holes</text>
<text x="45.5" y="366.3" font-size="32" font-weight="bold">c</text>
<line x1="114.68" y1="390.11" x2="114.68" y2="397.38" stroke="#000" stroke-width="1.5"/><line x1="114.68" y1="409.72" x2="114.68" y2="412.25" stroke="#000" stroke-width="1.5"/><line x1="107.56" y1="390.11" x2="121.8" y2="390.11" stroke="#000" stroke-width="1.5"/><line x1="107.56" y1="412.25" x2="121.8" y2="412.25" stroke="#000" stroke-width="1.5"/><rect x="101.23" y="397.38" width="26.26" height="12.34" fill="#a9cce9" stroke="#3a3a3a" stroke-width="1.2" fill-opacity="0.95"/><line x1="101.23" y1="402.13" x2="127.49" y2="402.13" stroke="#000" stroke-width="1.6"/><rect x="111.92" y="397.63" width="5.2" height="5.2" fill="none" stroke="#444" stroke-width="1.4"/>
<path d="M132.24 382.2 C132.61 382.99 132.5 385.31 134.45 386.94 C136.4 388.58 141.15 390.16 143.94 392.01 C146.74 393.85 150.43 395.7 151.22 398.02 C152.01 400.34 150.69 403.45 148.69 405.93 C146.68 408.4 141.83 409.72 139.2 412.89 C136.56 416.05 134.13 420.27 132.87 424.91 C131.6 429.55 131.81 438.09 131.6 440.72" fill="none" stroke="#8db2f0" stroke-width="1.8"/>
<line x1="198.99" y1="562.52" x2="198.99" y2="595.74" stroke="#000" stroke-width="1.5"/><line x1="198.99" y1="615.35" x2="198.99" y2="645.72" stroke="#000" stroke-width="1.5"/><line x1="192.34" y1="562.52" x2="205.63" y2="562.52" stroke="#000" stroke-width="1.5"/><line x1="192.34" y1="645.72" x2="205.63" y2="645.72" stroke="#000" stroke-width="1.5"/><rect x="185.38" y="595.74" width="25.94" height="19.61" fill="#a9cce9" stroke="#3a3a3a" stroke-width="1.2" fill-opacity="0.95"/><line x1="185.38" y1="604.28" x2="211.33" y2="604.28" stroke="#000" stroke-width="1.6"/><rect x="195.75" y="594.09" width="5.2" height="5.2" fill="none" stroke="#444" stroke-width="1.4"/>
<path d="M215.75 546.07 C216.07 548.02 215.39 552.93 217.65 557.78 C219.92 562.63 226.35 568.85 229.36 575.18 C232.36 581.5 234.79 589.15 235.68 595.74 C236.58 602.33 235.79 607.34 234.74 614.72 C233.68 622.1 230.94 630.54 229.36 640.03 C227.78 649.52 226.25 659.91 225.25 671.66 C224.24 683.42 223.66 704.09 223.35 710.58" fill="none" stroke="#8db2f0" stroke-width="1.8"/>
<line x1="282.19" y1="670.4" x2="282.19" y2="700.45" stroke="#000" stroke-width="1.5"/><line x1="275.23" y1="700.45" x2="289.47" y2="700.45" stroke="#000" stroke-width="1.5"/><rect x="269.53" y="640.03" width="25.62" height="30.37" fill="#a9cce9" stroke="#3a3a3a" stroke-width="1.2" fill-opacity="0.95"/><line x1="275.23" y1="640.03" x2="289.47" y2="640.03" stroke="#000" stroke-width="1.6"/><line x1="269.53" y1="652.68" x2="295.16" y2="652.68" stroke="#000" stroke-width="1.6"/><rect x="279.59" y="651.66" width="5.2" height="5.2" fill="none" stroke="#444" stroke-width="1.4"/>
<path d="M299.91 618.83 C300.43 620.52 300.33 625.16 303.07 628.96 C305.81 632.75 313.61 637.66 316.36 641.61 C319.1 645.56 319.36 648.2 319.52 652.68 C319.68 657.16 319.15 662.17 317.3 668.5 C315.46 674.83 310.71 683.63 308.45 690.65 C306.18 697.66 304.49 707.25 303.7 710.58" fill="none" stroke="#8db2f0" stroke-width="1.8"/>
<line x1="366.97" y1="670.4" x2="366.97" y2="700.45" stroke="#000" stroke-width="1.5"/><line x1="360.65" y1="670.4" x2="373.3" y2="670.4" stroke="#000" stroke-width="1.5"/><line x1="353.05" y1="700.45" x2="379.31" y2="700.45" stroke="#000" stroke-width="1.6"/><rect x="363.42" y="707.98" width="5.2" height="5.2" fill="none" stroke="#666" stroke-width="1.4"/>
<path d="M383.42 648.89 C384.9 653.47 389.01 666.13 392.28 676.41 C395.55 686.69 401.24 704.88 403.04 710.58" fill="none" stroke="#8db2f0" stroke-width="1.8"/>
<line x1="450.17" y1="682.74" x2="450.17" y2="700.45" stroke="#000" stroke-width="1.5"/><line x1="442.9" y1="682.74" x2="457.13" y2="682.74" stroke="#000" stroke-width="1.5"/><line x1="436.57" y1="700.45" x2="462.83" y2="700.45" stroke="#555" stroke-width="1.6"/><rect x="447.26" y="728.54" width="5.2" height="5.2" fill="none" stroke="#666" stroke-width="1.4"/>
<path d="M467.57 661.86 C469 665.6 472.9 676.2 476.12 684.32 C479.33 692.44 485.08 706.2 486.87 710.58" fill="none" stroke="#8db2f0" stroke-width="1.8"/>
<line x1="520.4" y1="700.45" x2="546.66" y2="700.45" stroke="#222" stroke-width="1.6"/><rect x="531.09" y="750.68" width="5.2" height="5.2" fill="none" stroke="#666" stroke-width="1.4"/>
<path d="M551.72 679.26 C552.83 681.68 556.1 688.59 558.37 693.81 C560.63 699.03 564.17 707.78 565.33 710.58" fill="none" stroke="#8db2f0" stroke-width="1.8"/>
<g fill="#5b9bd0" fill-opacity="0.55"><circle cx="132.24" cy="397.07" r="5.1"/><circle cx="136.98" cy="395.8" r="5.1"/><circle cx="141.41" cy="389.47" r="5.1"/><circle cx="147.11" cy="391.06" r="5.1"/><circle cx="132.87" cy="403.39" r="5.1"/><circle cx="138.25" cy="403.39" r="5.1"/><circle cx="142.99" cy="401.5" r="5.1"/><circle cx="131.29" cy="409.72" r="5.1"/><circle cx="136.03" cy="409.09" r="5.1"/><circle cx="141.73" cy="414.15" r="5.1"/><circle cx="134.45" cy="405.93" r="5.1"/><circle cx="145.52" cy="390.11" r="5.1"/><circle cx="221.77" cy="603.96" r="5.1"/><circle cx="225.56" cy="561.57" r="5.1"/><circle cx="223.35" cy="563.15" r="5.1"/><circle cx="227.14" cy="595.11" r="5.1"/><circle cx="218.29" cy="603.96" r="5.1"/><circle cx="231.26" cy="603.96" r="5.1"/><circle cx="217.65" cy="609.03" r="5.1"/><circle cx="229.04" cy="615.35" r="5.1"/><circle cx="233.15" cy="640.03" r="5.1"/><circle cx="221.45" cy="652.68" r="5.1"/><circle cx="299.91" cy="640.03" r="5.1"/><circle cx="303.7" cy="640.03" r="5.1"/><circle cx="308.45" cy="640.03" r="5.1"/><circle cx="315.09" cy="640.03" r="5.1"/><circle cx="301.17" cy="652.68" r="5.1"/><circle cx="306.23" cy="652.68" r="5.1"/><circle cx="313.19" cy="652.68" r="5.1"/><circle cx="305.28" cy="670.4" r="5.1"/><circle cx="311.61" cy="700.45" r="5.1"/><circle cx="317.3" cy="700.45" r="5.1"/><circle cx="385.32" cy="670.4" r="5.1"/><circle cx="391.33" cy="670.4" r="5.1"/><circle cx="393.23" cy="700.45" r="5.1"/><circle cx="395.44" cy="700.45" r="5.1"/><circle cx="397.98" cy="700.45" r="5.1"/><circle cx="401.14" cy="700.45" r="5.1"/><circle cx="477.06" cy="670.4" r="5.1"/><circle cx="469.16" cy="700.45" r="5.1"/><circle cx="471.37" cy="700.45" r="5.1"/><circle cx="473.58" cy="700.45" r="5.1"/><circle cx="551.41" cy="700.45" r="5.1"/><circle cx="561.53" cy="700.45" r="5.1"/><circle cx="563.11" cy="700.45" r="5.1"/></g>
</g>
<g id="p_d">
<rect x="738.2" y="353.2" width="503.7" height="428.4" fill="none" stroke="#000" stroke-width="1.8"/>
<line x1="737.6" y1="781.6" x2="737.6" y2="790" stroke="#000" stroke-width="1.8"/>
<text x="737.6" y="822" font-size="26.6" text-anchor="middle">0</text>
<line x1="829.2" y1="781.6" x2="829.2" y2="790" stroke="#000" stroke-width="1.8"/>
<text x="829.2" y="822" font-size="26.6" text-anchor="middle">10</text>
<line x1="920.8" y1="781.6" x2="920.8" y2="790" stroke="#000" stroke-width="1.8"/>
<text x="920.8" y="822" font-size="26.6" text-anchor="middle">20</text>
<line x1="1012.4" y1="781.6" x2="1012.4" y2="790" stroke="#000" stroke-width="1.8"/>
<text x="1012.4" y="822" font-size="26.6" text-anchor="middle">30</text>
<line x1="1104" y1="781.6" x2="1104" y2="790" stroke="#000" stroke-width="1.8"/>
<text x="1104" y="822" font-size="26.6" text-anchor="middle">40</text>
<line x1="1195.6" y1="781.6" x2="1195.6" y2="790" stroke="#000" stroke-width="1.8"/>
<text x="1195.6" y="822" font-size="26.6" text-anchor="middle">50</text>
<line x1="783.4" y1="781.6" x2="783.4" y2="786.4" stroke="#000" stroke-width="1.6"/>
<line x1="875" y1="781.6" x2="875" y2="786.4" stroke="#000" stroke-width="1.6"/>
<line x1="966.6" y1="781.6" x2="966.6" y2="786.4" stroke="#000" stroke-width="1.6"/>
<line x1="1058.2" y1="781.6" x2="1058.2" y2="786.4" stroke="#000" stroke-width="1.6"/>
<line x1="1149.8" y1="781.6" x2="1149.8" y2="786.4" stroke="#000" stroke-width="1.6"/>
<line x1="1241.4" y1="781.6" x2="1241.4" y2="786.4" stroke="#000" stroke-width="1.6"/>
<line x1="729.8" y1="739.4" x2="738.2" y2="739.4" stroke="#000" stroke-width="1.8"/>
<text x="724.8" y="750.7" font-size="26.6" text-anchor="end">0</text>
<line x1="729.8" y1="655.5" x2="738.2" y2="655.5" stroke="#000" stroke-width="1.8"/>
<text x="724.8" y="666.8" font-size="26.6" text-anchor="end">5</text>
<line x1="729.8" y1="571.6" x2="738.2" y2="571.6" stroke="#000" stroke-width="1.8"/>
<text x="724.8" y="582.9" font-size="26.6" text-anchor="end">10</text>
<line x1="729.8" y1="487.7" x2="738.2" y2="487.7" stroke="#000" stroke-width="1.8"/>
<text x="724.8" y="499" font-size="26.6" text-anchor="end">15</text>
<line x1="729.8" y1="403.8" x2="738.2" y2="403.8" stroke="#000" stroke-width="1.8"/>
<text x="724.8" y="415.1" font-size="26.6" text-anchor="end">20</text>
<line x1="733.4" y1="781.35" x2="738.2" y2="781.35" stroke="#000" stroke-width="1.6"/>
<line x1="733.4" y1="697.45" x2="738.2" y2="697.45" stroke="#000" stroke-width="1.6"/>
<line x1="733.4" y1="613.55" x2="738.2" y2="613.55" stroke="#000" stroke-width="1.6"/>
<line x1="733.4" y1="529.65" x2="738.2" y2="529.65" stroke="#000" stroke-width="1.6"/>
<line x1="733.4" y1="445.75" x2="738.2" y2="445.75" stroke="#000" stroke-width="1.6"/>
<line x1="733.4" y1="361.85" x2="738.2" y2="361.85" stroke="#000" stroke-width="1.6"/>
<text x="990.5" y="859" font-size="26.6" text-anchor="middle">Ni atomic percentage (%)</text>
<text font-size="26.6" text-anchor="middle" transform="translate(671 567.3) rotate(-90)">Number of dewetting holes (×10<tspan dy="-10" font-size="15">3</tspan><tspan dy="10" font-size="1">&#8203;</tspan>)</text>
<text x="695.5" y="367.5" font-size="32" font-weight="bold">d</text>
<path d="M783.4 723.96 L829.2 664.73 L920.8 528.81 L1012.4 459.51 L1104 402.12 L1195.6 399.6" fill="none" stroke="#2a2a9a" stroke-width="1.9"/>
<rect x="778.3" y="718.86" width="10.2" height="10.2" fill="#fff" stroke="#2a2a9a" stroke-width="1.8"/>
<rect x="824.1" y="659.63" width="10.2" height="10.2" fill="#fff" stroke="#2a2a9a" stroke-width="1.8"/>
<rect x="915.7" y="523.71" width="10.2" height="10.2" fill="#fff" stroke="#2a2a9a" stroke-width="1.8"/>
<rect x="1007.3" y="454.41" width="10.2" height="10.2" fill="#fff" stroke="#2a2a9a" stroke-width="1.8"/>
<rect x="1098.9" y="397.02" width="10.2" height="10.2" fill="#fff" stroke="#2a2a9a" stroke-width="1.8"/>
<rect x="1190.5" y="394.5" width="10.2" height="10.2" fill="#fff" stroke="#2a2a9a" stroke-width="1.8"/>
<path d="M783.4 739.4 L829.2 739.4 L920.8 731.01 L1012.4 664.39 L1104 522.27 L1195.6 439.54" fill="none" stroke="#3aa37c" stroke-width="1.9"/>
<rect x="778.3" y="734.3" width="10.2" height="10.2" fill="#fff" stroke="#3aa37c" stroke-width="1.8"/>
<rect x="824.1" y="734.3" width="10.2" height="10.2" fill="#fff" stroke="#3aa37c" stroke-width="1.8"/>
<rect x="915.7" y="725.91" width="10.2" height="10.2" fill="#fff" stroke="#3aa37c" stroke-width="1.8"/>
<rect x="1007.3" y="659.29" width="10.2" height="10.2" fill="#fff" stroke="#3aa37c" stroke-width="1.8"/>
<rect x="1098.9" y="517.17" width="10.2" height="10.2" fill="#fff" stroke="#3aa37c" stroke-width="1.8"/>
<rect x="1190.5" y="434.44" width="10.2" height="10.2" fill="#fff" stroke="#3aa37c" stroke-width="1.8"/>
<path d="M920.8 739.4 L1012.4 735.04 L1104 704.16 L1195.6 620.26" fill="none" stroke="#5cc9dc" stroke-width="1.9"/>
<rect x="915.7" y="734.3" width="10.2" height="10.2" fill="#fff" stroke="#5cc9dc" stroke-width="1.8"/>
<rect x="1007.3" y="729.94" width="10.2" height="10.2" fill="#fff" stroke="#5cc9dc" stroke-width="1.8"/>
<rect x="1098.9" y="699.06" width="10.2" height="10.2" fill="#fff" stroke="#5cc9dc" stroke-width="1.8"/>
<rect x="1190.5" y="615.16" width="10.2" height="10.2" fill="#fff" stroke="#5cc9dc" stroke-width="1.8"/>
<path d="M1012.4 739.4 L1104 736.55 L1195.6 726.14" fill="none" stroke="#e23222" stroke-width="1.9"/>
<rect x="1007.3" y="734.3" width="10.2" height="10.2" fill="#fff" stroke="#e23222" stroke-width="1.8"/>
<rect x="1098.9" y="731.45" width="10.2" height="10.2" fill="#fff" stroke="#e23222" stroke-width="1.8"/>
<rect x="1190.5" y="721.04" width="10.2" height="10.2" fill="#fff" stroke="#e23222" stroke-width="1.8"/>
<rect x="1190.5" y="734.3" width="10.2" height="10.2" fill="#fff" stroke="#f0917d" stroke-width="1.8"/>
<text x="1189" y="385.4" font-size="22.5" text-anchor="end" fill="#2a2a9a">0 nm Cu</text>
<text x="1182.5" y="443.9" font-size="22.5" text-anchor="end" fill="#3aa37c">60 nm Cu</text>
<text x="1184" y="617.9" font-size="22.5" text-anchor="end" fill="#5cc9dc">180 nm Cu</text>
<text x="1235.7" y="712.8" font-size="22.5" text-anchor="end" fill="#e23222">300 nm Cu</text>
<text x="1204" y="768.2" font-size="22.5" text-anchor="end" fill="#f0917d">420 nm Cu</text>
</g>
<g id="p_e">
<line x1="1395.7" y1="352.5" x2="1899.3" y2="352.5" stroke="#000" stroke-width="1.8"/>
<line x1="1395.7" y1="784.3" x2="1899.3" y2="784.3" stroke="#000" stroke-width="1.8"/>
<line x1="1395.7" y1="351.6" x2="1395.7" y2="785.2" stroke="#1c1cf6" stroke-width="1.8"/>
<line x1="1899.3" y1="351.6" x2="1899.3" y2="785.2" stroke="#fb1c12" stroke-width="1.8"/>
<line x1="1395.7" y1="784.3" x2="1395.7" y2="789.9" stroke="#000" stroke-width="1.8"/>
<text x="1395.7" y="820" font-size="26.6" text-anchor="middle">0</text>
<line x1="1494.06" y1="784.3" x2="1494.06" y2="789.9" stroke="#000" stroke-width="1.8"/>
<text x="1494.06" y="820" font-size="26.6" text-anchor="middle">200</text>
<line x1="1592.42" y1="784.3" x2="1592.42" y2="789.9" stroke="#000" stroke-width="1.8"/>
<text x="1592.42" y="820" font-size="26.6" text-anchor="middle">400</text>
<line x1="1690.78" y1="784.3" x2="1690.78" y2="789.9" stroke="#000" stroke-width="1.8"/>
<text x="1690.78" y="820" font-size="26.6" text-anchor="middle">600</text>
<line x1="1789.14" y1="784.3" x2="1789.14" y2="789.9" stroke="#000" stroke-width="1.8"/>
<text x="1789.14" y="820" font-size="26.6" text-anchor="middle">800</text>
<line x1="1887.5" y1="784.3" x2="1887.5" y2="789.9" stroke="#000" stroke-width="1.8"/>
<text x="1887.5" y="820" font-size="26.6" text-anchor="middle">1000</text>
<line x1="1444.88" y1="784.3" x2="1444.88" y2="787.1" stroke="#000" stroke-width="1.6"/>
<line x1="1543.24" y1="784.3" x2="1543.24" y2="787.1" stroke="#000" stroke-width="1.6"/>
<line x1="1641.6" y1="784.3" x2="1641.6" y2="787.1" stroke="#000" stroke-width="1.6"/>
<line x1="1739.96" y1="784.3" x2="1739.96" y2="787.1" stroke="#000" stroke-width="1.6"/>
<line x1="1838.32" y1="784.3" x2="1838.32" y2="787.1" stroke="#000" stroke-width="1.6"/>
<line x1="1390.1" y1="761.4" x2="1395.7" y2="761.4" stroke="#1c1cf6" stroke-width="1.8"/>
<text x="1381.8" y="771.3" font-size="26.6" text-anchor="end">0</text>
<line x1="1390.1" y1="684.26" x2="1395.7" y2="684.26" stroke="#1c1cf6" stroke-width="1.8"/>
<text x="1381.8" y="694.16" font-size="26.6" text-anchor="end">1</text>
<line x1="1390.1" y1="607.12" x2="1395.7" y2="607.12" stroke="#1c1cf6" stroke-width="1.8"/>
<text x="1381.8" y="617.02" font-size="26.6" text-anchor="end">2</text>
<line x1="1390.1" y1="529.98" x2="1395.7" y2="529.98" stroke="#1c1cf6" stroke-width="1.8"/>
<text x="1381.8" y="539.88" font-size="26.6" text-anchor="end">3</text>
<line x1="1390.1" y1="452.84" x2="1395.7" y2="452.84" stroke="#1c1cf6" stroke-width="1.8"/>
<text x="1381.8" y="462.74" font-size="26.6" text-anchor="end">4</text>
<line x1="1390.1" y1="375.7" x2="1395.7" y2="375.7" stroke="#1c1cf6" stroke-width="1.8"/>
<text x="1381.8" y="385.6" font-size="26.6" text-anchor="end">5</text>
<line x1="1392.9" y1="722.83" x2="1395.7" y2="722.83" stroke="#1c1cf6" stroke-width="1.6"/>
<line x1="1392.9" y1="645.69" x2="1395.7" y2="645.69" stroke="#1c1cf6" stroke-width="1.6"/>
<line x1="1392.9" y1="568.55" x2="1395.7" y2="568.55" stroke="#1c1cf6" stroke-width="1.6"/>
<line x1="1392.9" y1="491.41" x2="1395.7" y2="491.41" stroke="#1c1cf6" stroke-width="1.6"/>
<line x1="1392.9" y1="414.27" x2="1395.7" y2="414.27" stroke="#1c1cf6" stroke-width="1.6"/>
<line x1="1899.3" y1="736.1" x2="1904.9" y2="736.1" stroke="#fb1c12" stroke-width="1.8"/>
<text x="1910.2" y="746" font-size="26.6">150</text>
<line x1="1899.3" y1="640.2" x2="1904.9" y2="640.2" stroke="#fb1c12" stroke-width="1.8"/>
<text x="1910.2" y="650.1" font-size="26.6">160</text>
<line x1="1899.3" y1="544.3" x2="1904.9" y2="544.3" stroke="#fb1c12" stroke-width="1.8"/>
<text x="1910.2" y="554.2" font-size="26.6">170</text>
<line x1="1899.3" y1="448.4" x2="1904.9" y2="448.4" stroke="#fb1c12" stroke-width="1.8"/>
<text x="1910.2" y="458.3" font-size="26.6">180</text>
<line x1="1899.3" y1="352.5" x2="1904.9" y2="352.5" stroke="#fb1c12" stroke-width="1.8"/>
<text x="1910.2" y="362.4" font-size="26.6">190</text>
<line x1="1899.3" y1="784.05" x2="1902.1" y2="784.05" stroke="#fb1c12" stroke-width="1.6"/>
<line x1="1899.3" y1="688.15" x2="1902.1" y2="688.15" stroke="#fb1c12" stroke-width="1.6"/>
<line x1="1899.3" y1="592.25" x2="1902.1" y2="592.25" stroke="#fb1c12" stroke-width="1.6"/>
<line x1="1899.3" y1="496.35" x2="1902.1" y2="496.35" stroke="#fb1c12" stroke-width="1.6"/>
<line x1="1899.3" y1="400.45" x2="1902.1" y2="400.45" stroke="#fb1c12" stroke-width="1.6"/>
<text x="1650" y="858.6" font-size="26.5" text-anchor="middle">Temperature (<tspan dy="-9" font-size="15">o</tspan><tspan dy="9" font-size="1">&#8203;</tspan>C)</text>
<text font-size="26.5" text-anchor="middle" transform="translate(1340.5 567.5) rotate(-90)">Diameter of dewetting hole (μm)</text>
<text font-size="26.5" text-anchor="middle" transform="translate(1993 568) rotate(-90)">Red-channel intensity (arb. units)</text>
<text x="1340.5" y="365.5" font-size="32" font-weight="bold">e</text>
<line x1="1408" y1="761.4" x2="1887.5" y2="761.4" stroke="#1c1cf6" stroke-width="1.8"/>
<rect x="1402.7" y="756.1" width="10.6" height="10.6" fill="#fff" stroke="#1c1cf6" stroke-width="1.8"/>
<rect x="1439.58" y="756.1" width="10.6" height="10.6" fill="#fff" stroke="#1c1cf6" stroke-width="1.8"/>
<rect x="1488.76" y="756.1" width="10.6" height="10.6" fill="#fff" stroke="#1c1cf6" stroke-width="1.8"/>
<rect x="1537.94" y="756.1" width="10.6" height="10.6" fill="#fff" stroke="#1c1cf6" stroke-width="1.8"/>
<rect x="1587.12" y="756.1" width="10.6" height="10.6" fill="#fff" stroke="#1c1cf6" stroke-width="1.8"/>
<rect x="1599.42" y="756.1" width="10.6" height="10.6" fill="#fff" stroke="#1c1cf6" stroke-width="1.8"/>
<rect x="1611.71" y="756.1" width="10.6" height="10.6" fill="#fff" stroke="#1c1cf6" stroke-width="1.8"/>
<rect x="1624.01" y="756.1" width="10.6" height="10.6" fill="#fff" stroke="#1c1cf6" stroke-width="1.8"/>
<rect x="1636.3" y="756.1" width="10.6" height="10.6" fill="#fff" stroke="#1c1cf6" stroke-width="1.8"/>
<rect x="1648.6" y="756.1" width="10.6" height="10.6" fill="#fff" stroke="#1c1cf6" stroke-width="1.8"/>
<rect x="1660.89" y="756.1" width="10.6" height="10.6" fill="#fff" stroke="#1c1cf6" stroke-width="1.8"/>
<rect x="1673.19" y="756.1" width="10.6" height="10.6" fill="#fff" stroke="#1c1cf6" stroke-width="1.8"/>
<rect x="1685.48" y="756.1" width="10.6" height="10.6" fill="#fff" stroke="#1c1cf6" stroke-width="1.8"/>
<rect x="1697.78" y="756.1" width="10.6" height="10.6" fill="#fff" stroke="#1c1cf6" stroke-width="1.8"/>
<rect x="1710.07" y="756.1" width="10.6" height="10.6" fill="#fff" stroke="#1c1cf6" stroke-width="1.8"/>
<rect x="1722.37" y="756.1" width="10.6" height="10.6" fill="#fff" stroke="#1c1cf6" stroke-width="1.8"/>
<rect x="1734.66" y="756.1" width="10.6" height="10.6" fill="#fff" stroke="#1c1cf6" stroke-width="1.8"/>
<rect x="1746.96" y="756.1" width="10.6" height="10.6" fill="#fff" stroke="#1c1cf6" stroke-width="1.8"/>
<rect x="1759.25" y="756.1" width="10.6" height="10.6" fill="#fff" stroke="#1c1cf6" stroke-width="1.8"/>
<rect x="1771.55" y="756.1" width="10.6" height="10.6" fill="#fff" stroke="#1c1cf6" stroke-width="1.8"/>
<rect x="1783.84" y="756.1" width="10.6" height="10.6" fill="#fff" stroke="#1c1cf6" stroke-width="1.8"/>
<rect x="1796.13" y="756.1" width="10.6" height="10.6" fill="#fff" stroke="#1c1cf6" stroke-width="1.8"/>
<rect x="1808.43" y="756.1" width="10.6" height="10.6" fill="#fff" stroke="#1c1cf6" stroke-width="1.8"/>
<rect x="1820.73" y="756.1" width="10.6" height="10.6" fill="#fff" stroke="#1c1cf6" stroke-width="1.8"/>
<rect x="1833.02" y="756.1" width="10.6" height="10.6" fill="#fff" stroke="#1c1cf6" stroke-width="1.8"/>
<rect x="1845.32" y="756.1" width="10.6" height="10.6" fill="#fff" stroke="#1c1cf6" stroke-width="1.8"/>
<rect x="1857.61" y="756.1" width="10.6" height="10.6" fill="#fff" stroke="#1c1cf6" stroke-width="1.8"/>
<rect x="1869.9" y="756.1" width="10.6" height="10.6" fill="#fff" stroke="#1c1cf6" stroke-width="1.8"/>
<rect x="1882.2" y="756.1" width="10.6" height="10.6" fill="#fff" stroke="#1c1cf6" stroke-width="1.8"/>
<path d="M1408 410.04 C1414.14 410.04 1430.54 409.88 1444.88 410.04 C1459.22 410.2 1477.67 409.72 1494.06 411 C1510.45 412.28 1530.94 415.95 1543.24 417.71 C1555.54 419.47 1561.27 419.31 1567.83 421.55 C1574.39 423.79 1578.49 425.86 1582.58 431.14 C1586.68 436.41 1589.8 445.52 1592.42 453.2 C1595.04 460.87 1596.27 469.98 1598.32 477.17 C1600.37 484.36 1601.6 491.56 1604.72 496.35 C1607.83 501.15 1612.91 502.74 1617.01 505.94 C1621.11 509.14 1625.21 512.33 1629.31 515.53 C1633.4 518.73 1637.5 518.73 1641.6 525.12 C1645.7 531.51 1649.8 544.78 1653.89 553.89 C1657.99 563 1662.09 574.67 1666.19 579.78 C1670.29 584.9 1674.39 582.5 1678.49 584.58 C1682.58 586.66 1686.68 589.05 1690.78 592.25 C1694.88 595.45 1698.98 595.77 1703.08 603.76 C1707.17 611.75 1711.27 627.73 1715.37 640.2 C1719.47 652.67 1724.39 669.93 1727.66 678.56 C1730.94 687.19 1733.24 689.43 1735.04 691.99 C1736.85 694.54 1737.17 694.86 1738.48 693.9 C1739.8 692.94 1740.62 693.58 1742.91 686.23 C1745.21 678.88 1748.65 665.45 1752.26 649.79 C1755.86 634.13 1760.45 607.91 1764.55 592.25 C1768.65 576.59 1772.75 563.8 1776.85 555.81 C1780.94 547.82 1785.04 546.22 1789.14 544.3 C1793.24 542.38 1797.34 542.86 1801.43 544.3 C1805.53 545.74 1809.63 551.49 1813.73 552.93 C1817.83 554.37 1821.93 554.37 1826.03 552.93 C1830.12 551.49 1834.22 545.74 1838.32 544.3 C1842.42 542.86 1846.52 542.86 1850.62 544.3 C1854.71 545.74 1858.81 552.77 1862.91 552.93 C1867.01 553.09 1871.11 546.7 1875.2 545.26 C1879.3 543.82 1885.45 544.46 1887.5 544.3" fill="none" stroke="#fb1c12" stroke-width="1.9"/>
<circle cx="1408" cy="410.04" r="6.2" fill="#fff" stroke="#fb1c12" stroke-width="1.9"/>
<circle cx="1444.88" cy="410.04" r="6.2" fill="#fff" stroke="#fb1c12" stroke-width="1.9"/>
<circle cx="1494.06" cy="410.04" r="6.2" fill="#fff" stroke="#fb1c12" stroke-width="1.9"/>
<circle cx="1543.24" cy="419.63" r="6.2" fill="#fff" stroke="#fb1c12" stroke-width="1.9"/>
<circle cx="1592.42" cy="419.63" r="6.2" fill="#fff" stroke="#fb1c12" stroke-width="1.9"/>
<circle cx="1604.72" cy="496.35" r="6.2" fill="#fff" stroke="#fb1c12" stroke-width="1.9"/>
<circle cx="1617.01" cy="505.94" r="6.2" fill="#fff" stroke="#fb1c12" stroke-width="1.9"/>
<circle cx="1629.31" cy="515.53" r="6.2" fill="#fff" stroke="#fb1c12" stroke-width="1.9"/>
<circle cx="1641.6" cy="525.12" r="6.2" fill="#fff" stroke="#fb1c12" stroke-width="1.9"/>
<circle cx="1653.89" cy="553.89" r="6.2" fill="#fff" stroke="#fb1c12" stroke-width="1.9"/>
<circle cx="1666.19" cy="582.66" r="6.2" fill="#fff" stroke="#fb1c12" stroke-width="1.9"/>
<circle cx="1678.49" cy="582.66" r="6.2" fill="#fff" stroke="#fb1c12" stroke-width="1.9"/>
<circle cx="1690.78" cy="592.25" r="6.2" fill="#fff" stroke="#fb1c12" stroke-width="1.9"/>
<circle cx="1703.08" cy="601.84" r="6.2" fill="#fff" stroke="#fb1c12" stroke-width="1.9"/>
<circle cx="1715.37" cy="640.2" r="6.2" fill="#fff" stroke="#fb1c12" stroke-width="1.9"/>
<circle cx="1727.66" cy="678.56" r="6.2" fill="#fff" stroke="#fb1c12" stroke-width="1.9"/>
<circle cx="1739.96" cy="707.33" r="6.2" fill="#fff" stroke="#fb1c12" stroke-width="1.9"/>
<circle cx="1752.26" cy="649.79" r="6.2" fill="#fff" stroke="#fb1c12" stroke-width="1.9"/>
<circle cx="1764.55" cy="592.25" r="6.2" fill="#fff" stroke="#fb1c12" stroke-width="1.9"/>
<circle cx="1776.85" cy="553.89" r="6.2" fill="#fff" stroke="#fb1c12" stroke-width="1.9"/>
<circle cx="1789.14" cy="544.3" r="6.2" fill="#fff" stroke="#fb1c12" stroke-width="1.9"/>
<circle cx="1801.43" cy="544.3" r="6.2" fill="#fff" stroke="#fb1c12" stroke-width="1.9"/>
<circle cx="1813.73" cy="553.89" r="6.2" fill="#fff" stroke="#fb1c12" stroke-width="1.9"/>
<circle cx="1826.03" cy="553.89" r="6.2" fill="#fff" stroke="#fb1c12" stroke-width="1.9"/>
<circle cx="1838.32" cy="544.3" r="6.2" fill="#fff" stroke="#fb1c12" stroke-width="1.9"/>
<circle cx="1850.62" cy="544.3" r="6.2" fill="#fff" stroke="#fb1c12" stroke-width="1.9"/>
<circle cx="1862.91" cy="553.89" r="6.2" fill="#fff" stroke="#fb1c12" stroke-width="1.9"/>
<circle cx="1875.2" cy="544.3" r="6.2" fill="#fff" stroke="#fb1c12" stroke-width="1.9"/>
<circle cx="1887.5" cy="544.3" r="6.2" fill="#fff" stroke="#fb1c12" stroke-width="1.9"/>
<text x="1497.5" y="533.6" font-size="26.5" text-anchor="middle">Sputtered-layer</text>
<text x="1497.5" y="565.7" font-size="26.5" text-anchor="middle">alloying</text>
<text x="1824" y="671" font-size="26.5" text-anchor="middle">Bulk</text>
<text x="1824" y="702.5" font-size="26.5" text-anchor="middle">alloying</text>
<line x1="1578.6" y1="475.7" x2="1612.09" y2="558.53" stroke="#fb1c12" stroke-width="1.5"/><path d="M1617.9 572.9 L1606.9 560.63 L1617.28 556.43Z" fill="#fb1c12"/>
<line x1="1767.9" y1="691.8" x2="1782.17" y2="630.79" stroke="#fb1c12" stroke-width="1.5"/><path d="M1785.7 615.7 L1787.62 632.07 L1776.72 629.52Z" fill="#fb1c12"/>
</g>
<g id="p_f">
<g clip-path="url(#fclip)">
<rect x="87.8" y="910.7" width="441.7" height="441.8" fill="url(#fbg)"/>
<rect x="87.8" y="910.7" width="441.7" height="225" fill="url(#fpat)"/>
<path d="M67.8 1127 L207.8 1129 L347.8 1126 L467.8 1121 L549.5 1120 L549.5 1400 L67.8 1400 Z" fill="#373737" filter="url(#fblur)"/>
<rect x="87.8" y="1128" width="441.7" height="224.5" fill="url(#fpat2)"/>
<rect x="87.8" y="910.7" width="441.7" height="441.8" fill="#000" filter="url(#fnz)"/>
<rect x="87.8" y="910.7" width="441.7" height="441.8" fill="#fff" filter="url(#fnzw)"/>
</g>
<rect x="160.2" y="925.8" width="313.6" height="161.1" fill="none" stroke="#fff" stroke-width="1.7" stroke-dasharray="7 6"/>
<g stroke="#000" stroke-width="1.5" fill="none"><circle cx="102.4" cy="932.5" r="10.4"/><path d="M95.05 925.15L109.75 939.85M95.05 939.85L109.75 925.15"/></g>
<text x="117.7" y="941.7" font-size="25" letter-spacing="1.3">[110]</text><line x1="143.85" y1="918.5" x2="152.45" y2="918.5" stroke="#000" stroke-width="1.7"/>
<text x="312" y="1017.9" font-size="27" text-anchor="middle">Cu<tspan dy="9" font-size="15.2">90</tspan><tspan dy="-9" font-size="1">&#8203;</tspan>Ni<tspan dy="9" font-size="15.2">10</tspan><tspan dy="-9" font-size="1">&#8203;</tspan>(111)</text>
<g stroke="#fff" stroke-width="1.5" fill="none"><circle cx="102.4" cy="1168.6" r="10.4"/><path d="M95.05 1161.25L109.75 1175.95M95.05 1175.95L109.75 1161.25"/></g>
<text x="117.7" y="1177.9" font-size="25" fill="#fff" letter-spacing="1.3">[1100]</text><line x1="143.85" y1="1154.7" x2="152.45" y2="1154.7" stroke="#fff" stroke-width="1.7"/>
<text x="312" y="1249.5" font-size="27" text-anchor="middle" fill="#fff">Al<tspan dy="9" font-size="15.2">2</tspan><tspan dy="-9" font-size="1">&#8203;</tspan>O<tspan dy="9" font-size="15.2">3</tspan><tspan dy="-9" font-size="1">&#8203;</tspan>(0001)</text>
<text x="453.9" y="1325" font-size="26.5" text-anchor="middle" fill="#fff">2 nm</text><line x1="398.7" y1="1335" x2="509.6" y2="1335" stroke="#fff" stroke-width="2"/>
<text x="49.3" y="929.3" font-size="32" font-weight="bold">f</text>
<rect x="549" y="910.8" width="390.1" height="214" fill="#060200"/>
<rect x="549" y="910.8" width="390.1" height="214" fill="url(#fcu)"/>
<rect x="549" y="910.8" width="390.1" height="214" fill="#000" filter="url(#fcunz)"/>
<text x="561" y="943.5" font-size="26.5" fill="#fff">Cu</text>
<text x="877.5" y="1096" font-size="26.5" text-anchor="middle" fill="#fff">1 nm</text><line x1="841.5" y1="1106.3" x2="912.5" y2="1106.3" stroke="#fff" stroke-width="2"/>
<rect x="549" y="1138.7" width="390.1" height="213.7" fill="#031202"/>
<rect x="549" y="1138.7" width="390.1" height="213.7" fill="url(#fni)"/>
<rect x="549" y="1138.7" width="390.1" height="213.7" fill="#000" filter="url(#fninz)"/>
<text x="565" y="1175" font-size="26.5" fill="#fff">Ni</text>
<text x="877.5" y="1324" font-size="26.5" text-anchor="middle" fill="#fff">1 nm</text><line x1="841.5" y1="1334.7" x2="912.5" y2="1334.7" stroke="#fff" stroke-width="2"/>
</g>
<g id="p_gh">
<rect x="1047" y="910.4" width="376.5" height="214.6" fill="#3e3e3e"/>
<rect x="1047" y="910.4" width="376.5" height="214.6" fill="url(#gpat)"/>
<rect x="1047" y="910.4" width="376.5" height="214.6" fill="#000" filter="url(#gnz)"/>
<rect x="1047" y="910.4" width="376.5" height="214.6" fill="#fff" filter="url(#gnzw)"/>
<rect x="1047" y="910.4" width="93" height="40.3" fill="#262626" fill-opacity="0.78"/>
<g stroke="#fff" stroke-width="1.5" fill="none"><circle cx="1062.7" cy="932.4" r="10.6"/><path d="M1055.2 924.9L1070.2 939.9M1055.2 939.9L1070.2 924.9"/></g>
<text x="1078.3" y="942" font-size="25" fill="#fff" letter-spacing="1.3">[110]</text><line x1="1104.45" y1="918.8" x2="1113.05" y2="918.8" stroke="#fff" stroke-width="1.7"/>
<rect x="1144.7" y="937.5" width="163.3" height="156.1" fill="none" stroke="#fff" stroke-width="1.7" stroke-dasharray="7 6"/>
<text x="1378.8" y="1099.4" font-size="26.5" text-anchor="middle" fill="#fff">1 nm</text><line x1="1347.3" y1="1109.6" x2="1409.5" y2="1109.6" stroke="#fff" stroke-width="2"/>
<text x="1010.2" y="923" font-size="32" font-weight="bold">g</text>
<rect x="1047" y="1138.8" width="376.5" height="213.8" fill="#424242"/>
<rect x="1047" y="1138.8" width="376.5" height="213.8" fill="url(#hpat)"/>
<rect x="1047" y="1138.8" width="376.5" height="213.8" fill="#000" filter="url(#gnz)"/>
<rect x="1047" y="1138.8" width="376.5" height="213.8" fill="#fff" filter="url(#gnzw)"/>
<rect x="1049.6" y="1140.8" width="91" height="36.8" fill="#262626" fill-opacity="0.78"/>
<g stroke="#fff" stroke-width="1.5" fill="none"><circle cx="1062.7" cy="1159.9" r="10.6"/><path d="M1055.2 1152.4L1070.2 1167.4M1055.2 1167.4L1070.2 1152.4"/></g>
<text x="1078.3" y="1169.8" font-size="25" fill="#fff" letter-spacing="1.3">[110]</text><line x1="1104.45" y1="1146.6" x2="1113.05" y2="1146.6" stroke="#fff" stroke-width="1.7"/>
<rect x="1144.7" y="1159.6" width="163.3" height="156.1" fill="none" stroke="#fff" stroke-width="1.7" stroke-dasharray="7 6"/>
<text x="1378.8" y="1322.8" font-size="26.5" text-anchor="middle" fill="#fff">1 nm</text><line x1="1347.3" y1="1334.3" x2="1408.5" y2="1334.3" stroke="#fff" stroke-width="2"/>
<text x="1010.6" y="1154" font-size="32" font-weight="bold">h</text>
<rect x="1444.5" y="910.4" width="216.5" height="215.8" fill="#050100"/>
<rect x="1444.5" y="910.4" width="216.5" height="215.8" fill="url(#gcu)"/>
<text x="1458" y="943.3" font-size="26.5" fill="#fff">Cu</text>
<text x="1602.6" y="1099.4" font-size="26.5" text-anchor="middle" fill="#fff">1 nm</text><line x1="1559.5" y1="1109.9" x2="1645.3" y2="1109.9" stroke="#fff" stroke-width="2"/>
<rect x="1683.9" y="910.4" width="216.3" height="215.8" fill="#0c0210"/>
<rect x="1683.9" y="910.4" width="216.3" height="215.8" fill="url(#gpt)"/>
<rect x="1683.9" y="910.4" width="216.3" height="215.8" fill="#000" filter="url(#gptnz)"/>
<text x="1696.6" y="943.3" font-size="26.5" fill="#fff">Pt</text>
<text x="1838.7" y="1099.4" font-size="26.5" text-anchor="middle" fill="#fff">1 nm</text><line x1="1795.6" y1="1109.9" x2="1881.4" y2="1109.9" stroke="#fff" stroke-width="2"/>
<rect x="1444.5" y="1138.8" width="217.5" height="213.8" fill="#7a440c"/>
<rect x="1444.5" y="1138.8" width="217.5" height="213.8" fill="url(#hcu)"/>
<rect x="1444.5" y="1138.8" width="217.5" height="213.8" fill="#000" filter="url(#hcunz)"/>
<text x="1454.6" y="1168.8" font-size="26.5" fill="#fff">Cu</text>
<text x="1602.6" y="1322.8" font-size="26.5" text-anchor="middle" fill="#fff">1 nm</text><line x1="1559" y1="1334.3" x2="1645.8" y2="1334.3" stroke="#fff" stroke-width="2"/>
<rect x="1683.9" y="1138.8" width="216.3" height="213.8" fill="#a8180a"/>
<rect x="1683.9" y="1138.8" width="216.3" height="213.8" fill="url(#hpd)"/>
<rect x="1683.9" y="1138.8" width="216.3" height="213.8" fill="#000" filter="url(#hpdnz)"/>
<text x="1693.3" y="1168.8" font-size="26.5" fill="#fff">Pd</text>
<text x="1832.4" y="1322.8" font-size="26.5" text-anchor="middle" fill="#fff">1 nm</text><line x1="1795" y1="1334.3" x2="1881.9" y2="1334.3" stroke="#fff" stroke-width="2"/>
</g>
<g id="p_i">
<line x1="204" y1="1423.7" x2="204" y2="1661" stroke="#555" stroke-width="1.5" stroke-dasharray="5.5 4"/>
<line x1="232.9" y1="1423.7" x2="232.9" y2="1661" stroke="#555" stroke-width="1.5" stroke-dasharray="5.5 4"/>
<use href="#cY" x="104.07" y="1428.94"/><use href="#cY" x="113.43" y="1428.86"/><use href="#cY" x="122.25" y="1429.15"/><use href="#cY" x="130.64" y="1429.29"/><use href="#cY" x="139.57" y="1429.22"/><use href="#cY" x="148.57" y="1428.88"/><use href="#cY" x="157.96" y="1429.61"/><use href="#cY" x="166.56" y="1429.01"/><use href="#cY" x="176.13" y="1429.73"/><use href="#cY" x="185.03" y="1429.18"/><use href="#cY" x="194.47" y="1428.83"/><use href="#cY" x="203.29" y="1429.08"/><use href="#cY" x="101.72" y="1438.19"/><use href="#cY" x="110.87" y="1438.89"/><use href="#cY" x="119.68" y="1438.65"/><use href="#cY" x="129.19" y="1438.44"/><use href="#cY" x="138.04" y="1438.13"/><use href="#cY" x="146.42" y="1438.28"/><use href="#cY" x="156.13" y="1438.5"/><use href="#cY" x="164.65" y="1438.66"/><use href="#cY" x="173.77" y="1438.37"/><use href="#cY" x="183.15" y="1438.77"/><use href="#cY" x="191.45" y="1438.65"/><use href="#cY" x="200.74" y="1438.95"/><use href="#cY" x="98.85" y="1449.07"/><use href="#cY" x="108.24" y="1448.9"/><use href="#cY" x="116.65" y="1449.54"/><use href="#cY" x="125.43" y="1449.27"/><use href="#cY" x="134.38" y="1449.45"/><use href="#cY" x="144.34" y="1449.36"/><use href="#cY" x="153.57" y="1449.1"/><use href="#cY" x="162.44" y="1449.38"/><use href="#cY" x="171.39" y="1449.24"/><use href="#cY" x="180.8" y="1449.73"/><use href="#cY" x="189.45" y="1449.45"/><use href="#cY" x="198.04" y="1449.49"/><use href="#cY" x="100.89" y="1459.06"/><use href="#cY" x="110.13" y="1458.36"/><use href="#cY" x="118.63" y="1458.74"/><use href="#cY" x="127.22" y="1458.53"/><use href="#cY" x="136.42" y="1458.19"/><use href="#cY" x="145.31" y="1458.84"/><use href="#cY" x="154.43" y="1458.32"/><use href="#cY" x="163.77" y="1458.94"/><use href="#cY" x="172.42" y="1458.52"/><use href="#cY" x="182.01" y="1458.95"/><use href="#cY" x="191.36" y="1458.94"/><use href="#cY" x="199.73" y="1458.49"/><use href="#cY" x="104.12" y="1468.24"/><use href="#cY" x="113.86" y="1467.51"/><use href="#cY" x="121.95" y="1467.59"/><use href="#cY" x="131.04" y="1467.84"/><use href="#cY" x="140.5" y="1467.62"/><use href="#cY" x="148.82" y="1467.78"/><use href="#cY" x="158.28" y="1467.92"/><use href="#cY" x="168.01" y="1468.05"/><use href="#cY" x="176.51" y="1467.97"/><use href="#cY" x="185.73" y="1467.41"/><use href="#cY" x="195.02" y="1468.14"/><use href="#cY" x="204.02" y="1468.16"/><use href="#cY" x="102.01" y="1477.04"/><use href="#cY" x="110.65" y="1477.28"/><use href="#cY" x="119.59" y="1476.71"/><use href="#cY" x="128.75" y="1476.81"/><use href="#cY" x="137.9" y="1476.7"/><use href="#cY" x="146.48" y="1476.79"/><use href="#cY" x="155.59" y="1477.01"/><use href="#cY" x="164.48" y="1477.52"/><use href="#cY" x="174.18" y="1476.79"/><use href="#cY" x="182.73" y="1476.99"/><use href="#cY" x="191.85" y="1476.77"/><use href="#cY" x="201.42" y="1477.64"/><use href="#cY" x="104.96" y="1486.41"/><use href="#cY" x="113.53" y="1486.03"/><use href="#cY" x="122.86" y="1486.19"/><use href="#cY" x="132.47" y="1486.09"/><use href="#cY" x="140.53" y="1486.88"/><use href="#cY" x="150.16" y="1486.08"/><use href="#cY" x="159.21" y="1485.96"/><use href="#cY" x="168.22" y="1486.91"/><use href="#cY" x="177.64" y="1486.62"/><use href="#cY" x="185.95" y="1486.3"/><use href="#cY" x="194.86" y="1486.7"/><use href="#cY" x="204.32" y="1486.71"/><use href="#cY" x="107.65" y="1496.15"/><use href="#cY" x="117.23" y="1496.91"/><use href="#cY" x="126.28" y="1496.73"/><use href="#cY" x="135.24" y="1496.67"/><use href="#cY" x="143.53" y="1496.45"/><use href="#cY" x="152.68" y="1495.96"/><use href="#cY" x="161.29" y="1496.21"/><use href="#cY" x="170.57" y="1496.62"/><use href="#cY" x="180.4" y="1496.38"/><use href="#cY" x="189.38" y="1496.92"/><use href="#cY" x="198.4" y="1496.29"/>
<use href="#cY" x="238.24" y="1429.01"/><use href="#cY" x="247.14" y="1428.99"/><use href="#cY" x="256.58" y="1429.69"/><use href="#cY" x="265.77" y="1429.27"/><use href="#cY" x="274.47" y="1429.59"/><use href="#cY" x="282.72" y="1429.45"/><use href="#cY" x="292.63" y="1429.57"/><use href="#cY" x="301.37" y="1429.26"/><use href="#cY" x="309.61" y="1429.57"/><use href="#cY" x="318.73" y="1429.59"/><use href="#cY" x="328.42" y="1429.18"/><use href="#cY" x="336.67" y="1429.73"/><use href="#cY" x="345.98" y="1428.96"/><use href="#cY" x="233.84" y="1438.22"/><use href="#cY" x="243.88" y="1438.88"/><use href="#cY" x="252.08" y="1438.9"/><use href="#cY" x="262.18" y="1438.73"/><use href="#cY" x="270.53" y="1438.62"/><use href="#cY" x="279.38" y="1438.09"/><use href="#cY" x="289.49" y="1438.72"/><use href="#cY" x="298.07" y="1439.01"/><use href="#cY" x="307.06" y="1438.94"/><use href="#cY" x="316.64" y="1438.28"/><use href="#cY" x="325.06" y="1438.36"/><use href="#cY" x="334.15" y="1438.66"/><use href="#cY" x="343.28" y="1438.49"/><use href="#cY" x="239.56" y="1449.7"/><use href="#cY" x="248.92" y="1449.24"/><use href="#cY" x="258.28" y="1449.69"/><use href="#cY" x="267.18" y="1449.7"/><use href="#cY" x="276.37" y="1449.32"/><use href="#cY" x="285.48" y="1448.8"/><use href="#cY" x="294.47" y="1448.97"/><use href="#cY" x="303.04" y="1449.58"/><use href="#cY" x="312.33" y="1449.26"/><use href="#cY" x="322.09" y="1449.34"/><use href="#cY" x="330.7" y="1449.3"/><use href="#cY" x="340.07" y="1449.57"/><use href="#cY" x="233.81" y="1458.63"/><use href="#cY" x="243.15" y="1458.35"/><use href="#cY" x="252.95" y="1458.58"/><use href="#cY" x="261.86" y="1458.83"/><use href="#cY" x="271.45" y="1458.51"/><use href="#cY" x="280.25" y="1458.58"/><use href="#cY" x="289.3" y="1458.76"/><use href="#cY" x="298.4" y="1458.6"/><use href="#cY" x="307.59" y="1459.01"/><use href="#cY" x="317.02" y="1458.95"/><use href="#cY" x="326.48" y="1458.33"/><use href="#cY" x="335.19" y="1459.01"/><use href="#cY" x="344.69" y="1458.21"/><use href="#cY" x="238.83" y="1467.8"/><use href="#cY" x="247.58" y="1467.6"/><use href="#cY" x="256.39" y="1468.03"/><use href="#cY" x="266.06" y="1468.25"/><use href="#cY" x="274.11" y="1468.07"/><use href="#cY" x="283.53" y="1467.5"/><use href="#cY" x="292.6" y="1468.32"/><use href="#cY" x="300.62" y="1468.31"/><use href="#cY" x="309.64" y="1467.84"/><use href="#cY" x="319.16" y="1468.19"/><use href="#cY" x="326.97" y="1467.79"/><use href="#cY" x="336.21" y="1467.7"/><use href="#cY" x="344.63" y="1467.68"/><use href="#cY" x="235.27" y="1476.66"/><use href="#cY" x="244.11" y="1477.08"/><use href="#cY" x="252.52" y="1476.97"/><use href="#cY" x="262.29" y="1477.16"/><use href="#cY" x="270.67" y="1477.63"/><use href="#cY" x="280.58" y="1477.61"/><use href="#cY" x="288.81" y="1476.91"/><use href="#cY" x="297.78" y="1477.42"/><use href="#cY" x="307.11" y="1476.77"/><use href="#cY" x="316.34" y="1477.55"/><use href="#cY" x="325.86" y="1476.9"/><use href="#cY" x="334.1" y="1477.56"/><use href="#cY" x="343.66" y="1477.34"/><use href="#cY" x="238.08" y="1485.99"/><use href="#cY" x="247.95" y="1486.35"/><use href="#cY" x="256.37" y="1486.87"/><use href="#cY" x="266.2" y="1486.73"/><use href="#cY" x="274.7" y="1486.78"/><use href="#cY" x="283.83" y="1486.79"/><use href="#cY" x="293.45" y="1486.27"/><use href="#cY" x="302.73" y="1486.86"/><use href="#cY" x="311.54" y="1486.06"/><use href="#cY" x="321.01" y="1486.17"/><use href="#cY" x="329.66" y="1486.09"/><use href="#cY" x="338.75" y="1486.13"/><use href="#cY" x="233.35" y="1496.23"/><use href="#cY" x="242.75" y="1496.22"/><use href="#cY" x="251.31" y="1496.11"/><use href="#cY" x="259.99" y="1495.95"/><use href="#cY" x="268.75" y="1495.94"/><use href="#cY" x="278.2" y="1496.48"/><use href="#cY" x="286.41" y="1496.4"/><use href="#cY" x="296.18" y="1496.03"/><use href="#cY" x="304.91" y="1496.36"/><use href="#cY" x="313.39" y="1496.76"/><use href="#cY" x="322.13" y="1496.44"/><use href="#cY" x="331.36" y="1496.91"/><use href="#cY" x="339.81" y="1496.76"/>
<use href="#cG" x="104.49" y="1513.73"/><use href="#cG" x="110.87" y="1513.39"/><use href="#cG" x="117.21" y="1513.13"/><use href="#cG" x="123.91" y="1513.86"/><use href="#cG" x="130.78" y="1513.17"/><use href="#cG" x="137.29" y="1513.98"/><use href="#cG" x="144.76" y="1513.78"/><use href="#cG" x="150.85" y="1513.26"/><use href="#cG" x="157.55" y="1513.52"/><use href="#cG" x="164.1" y="1513.51"/><use href="#cG" x="170.89" y="1514.13"/><use href="#cG" x="178.28" y="1513.63"/><use href="#cG" x="184.23" y="1514.13"/><use href="#cG" x="190.98" y="1513.4"/><use href="#cG" x="197.36" y="1513.43"/><use href="#cG" x="101.83" y="1520.72"/><use href="#cG" x="108.26" y="1520.72"/><use href="#cG" x="114.77" y="1520.43"/><use href="#cG" x="121.56" y="1520.59"/><use href="#cG" x="128.22" y="1520.14"/><use href="#cG" x="135.18" y="1520.39"/><use href="#cG" x="142.17" y="1520.75"/><use href="#cG" x="149.04" y="1520.9"/><use href="#cG" x="155.71" y="1521.17"/><use href="#cG" x="162.08" y="1520.51"/><use href="#cG" x="169.38" y="1520.29"/><use href="#cG" x="175.83" y="1520.89"/><use href="#cG" x="181.85" y="1521.12"/><use href="#cG" x="189.4" y="1520.87"/><use href="#cG" x="195.95" y="1521.09"/><use href="#cG" x="98.93" y="1529.31"/><use href="#cG" x="106.43" y="1529.69"/><use href="#cG" x="113.88" y="1529.68"/><use href="#cG" x="120.8" y="1529.76"/><use href="#cG" x="128.04" y="1529.52"/><use href="#cG" x="134.73" y="1528.72"/><use href="#cG" x="141.78" y="1529.12"/><use href="#cG" x="148.89" y="1529.69"/><use href="#cG" x="156.49" y="1529.44"/><use href="#cG" x="163.7" y="1529.5"/><use href="#cG" x="170.7" y="1528.69"/><use href="#cG" x="178.15" y="1529.58"/><use href="#cG" x="185" y="1529.33"/><use href="#cG" x="192.3" y="1528.76"/><use href="#cG" x="199.52" y="1528.99"/><use href="#cG" x="102" y="1536.15"/><use href="#cG" x="109.78" y="1536.07"/><use href="#cG" x="116.91" y="1537"/><use href="#cG" x="123.79" y="1536.29"/><use href="#cG" x="130.89" y="1536.65"/><use href="#cG" x="138.3" y="1536.57"/><use href="#cG" x="145.3" y="1535.92"/><use href="#cG" x="151.92" y="1536.13"/><use href="#cG" x="159.64" y="1536.19"/><use href="#cG" x="166.58" y="1535.84"/><use href="#cG" x="173.2" y="1536.15"/><use href="#cG" x="180.93" y="1536.66"/><use href="#cG" x="188.05" y="1536.18"/><use href="#cG" x="195.02" y="1536.39"/><use href="#cG" x="103.54" y="1543.83"/><use href="#cG" x="110.75" y="1543.92"/><use href="#cG" x="117.62" y="1544.81"/><use href="#cG" x="123.45" y="1544.24"/><use href="#cG" x="131.03" y="1544.85"/><use href="#cG" x="137.45" y="1544.01"/><use href="#cG" x="144" y="1544.82"/><use href="#cG" x="150.78" y="1544.38"/><use href="#cG" x="157.5" y="1544.31"/><use href="#cG" x="165.1" y="1543.84"/><use href="#cG" x="171.75" y="1544.3"/><use href="#cG" x="178.6" y="1544.53"/><use href="#cG" x="184.73" y="1544.76"/><use href="#cG" x="191.77" y="1543.72"/><use href="#cG" x="198.08" y="1544.28"/><use href="#cG" x="101.81" y="1551.91"/><use href="#cG" x="108.23" y="1551.96"/><use href="#cG" x="115.14" y="1552.55"/><use href="#cG" x="121.56" y="1552.44"/><use href="#cG" x="129.14" y="1551.69"/><use href="#cG" x="135.96" y="1552.4"/><use href="#cG" x="142.67" y="1551.89"/><use href="#cG" x="148.87" y="1552.01"/><use href="#cG" x="156.23" y="1552.25"/><use href="#cG" x="162.33" y="1552.06"/><use href="#cG" x="168.98" y="1551.6"/><use href="#cG" x="175.54" y="1552.54"/><use href="#cG" x="182.46" y="1552.67"/><use href="#cG" x="189.16" y="1551.86"/><use href="#cG" x="196.15" y="1551.77"/><use href="#cG" x="104.16" y="1559.83"/><use href="#cG" x="111.37" y="1559.66"/><use href="#cG" x="117.82" y="1559.78"/><use href="#cG" x="124.84" y="1559.34"/><use href="#cG" x="131.32" y="1558.75"/><use href="#cG" x="138.04" y="1559.23"/><use href="#cG" x="144.76" y="1559.46"/><use href="#cG" x="151" y="1558.74"/><use href="#cG" x="158.35" y="1558.84"/><use href="#cG" x="164.59" y="1559.1"/><use href="#cG" x="171.12" y="1559.57"/><use href="#cG" x="178.51" y="1559"/><use href="#cG" x="184.89" y="1559.05"/><use href="#cG" x="191.5" y="1559.16"/><use href="#cG" x="197.81" y="1558.88"/><use href="#cG" x="99.28" y="1567.2"/><use href="#cG" x="106.3" y="1566.38"/><use href="#cG" x="113.45" y="1567.31"/><use href="#cG" x="119.73" y="1566.28"/><use href="#cG" x="126.2" y="1566.22"/><use href="#cG" x="133.09" y="1566.22"/><use href="#cG" x="139.72" y="1566.42"/><use href="#cG" x="146.78" y="1567.18"/><use href="#cG" x="153.7" y="1566.61"/><use href="#cG" x="160.1" y="1566.74"/><use href="#cG" x="166.8" y="1566.52"/><use href="#cG" x="173.22" y="1566.45"/><use href="#cG" x="180.86" y="1566.27"/><use href="#cG" x="187.13" y="1566.87"/><use href="#cG" x="194.22" y="1566.37"/>
<use href="#cP" x="242.63" y="1514.41"/><use href="#cP" x="252.54" y="1514.65"/><use href="#cP" x="262.88" y="1515.13"/><use href="#cP" x="272.59" y="1514.14"/><use href="#cP" x="281.53" y="1514.97"/><use href="#cP" x="292.18" y="1514.68"/><use href="#cP" x="301.66" y="1514.11"/><use href="#cP" x="311.25" y="1515.23"/><use href="#cP" x="321.47" y="1515.14"/><use href="#cP" x="331.4" y="1514.41"/><use href="#cP" x="340.32" y="1514.3"/><use href="#cP" x="240.02" y="1525.22"/><use href="#cP" x="250.73" y="1525.27"/><use href="#cP" x="260.72" y="1525.32"/><use href="#cP" x="270.81" y="1525.06"/><use href="#cP" x="280.68" y="1525.34"/><use href="#cP" x="291.16" y="1525.5"/><use href="#cP" x="301.86" y="1524.76"/><use href="#cP" x="311.63" y="1524.7"/><use href="#cP" x="322.42" y="1525.24"/><use href="#cP" x="332.18" y="1524.48"/><use href="#cP" x="342.88" y="1525.1"/><use href="#cP" x="238.46" y="1535.38"/><use href="#cP" x="248.53" y="1535.13"/><use href="#cP" x="258.09" y="1535.67"/><use href="#cP" x="268.6" y="1535.89"/><use href="#cP" x="278.38" y="1535.68"/><use href="#cP" x="287.59" y="1535.41"/><use href="#cP" x="298.17" y="1535.96"/><use href="#cP" x="307.38" y="1535.14"/><use href="#cP" x="317.43" y="1535.92"/><use href="#cP" x="327.21" y="1535.42"/><use href="#cP" x="337.31" y="1536.22"/><use href="#cP" x="246.16" y="1545.16"/><use href="#cP" x="256.11" y="1545.62"/><use href="#cP" x="266.29" y="1545.35"/><use href="#cP" x="276.25" y="1546"/><use href="#cP" x="285.8" y="1545.36"/><use href="#cP" x="296.1" y="1545.49"/><use href="#cP" x="305.8" y="1545.39"/><use href="#cP" x="315.04" y="1546.03"/><use href="#cP" x="324.95" y="1546.26"/><use href="#cP" x="335" y="1545.34"/><use href="#cP" x="239.72" y="1555.61"/><use href="#cP" x="250.02" y="1556.25"/><use href="#cP" x="259.36" y="1555.59"/><use href="#cP" x="269.28" y="1556.28"/><use href="#cP" x="279.07" y="1555.18"/><use href="#cP" x="288.85" y="1555.59"/><use href="#cP" x="299.54" y="1556.17"/><use href="#cP" x="309.23" y="1556.31"/><use href="#cP" x="319.29" y="1555.51"/><use href="#cP" x="328.4" y="1556.24"/><use href="#cP" x="338.82" y="1555.15"/><use href="#cP" x="243.02" y="1565.14"/><use href="#cP" x="252.59" y="1565.08"/><use href="#cP" x="262.24" y="1564.69"/><use href="#cP" x="272.21" y="1565.11"/><use href="#cP" x="282.74" y="1564.83"/><use href="#cP" x="292.61" y="1564.93"/><use href="#cP" x="301.86" y="1565.67"/><use href="#cP" x="312.18" y="1565.2"/><use href="#cP" x="321.26" y="1565.25"/><use href="#cP" x="331.44" y="1565.79"/><use href="#cP" x="341.12" y="1565.12"/><use href="#cP" x="238.97" y="1576.58"/><use href="#cP" x="248.41" y="1577.52"/><use href="#cP" x="258.7" y="1576.59"/><use href="#cP" x="267.89" y="1576.62"/><use href="#cP" x="278.71" y="1576.85"/><use href="#cP" x="288.46" y="1577.62"/><use href="#cP" x="297.98" y="1576.87"/><use href="#cP" x="308.53" y="1577.28"/><use href="#cP" x="317.76" y="1577.4"/><use href="#cP" x="327.75" y="1576.87"/><use href="#cP" x="337.36" y="1577.45"/><use href="#cP" x="246.85" y="1588.3"/><use href="#cP" x="256.71" y="1587.57"/><use href="#cP" x="265.84" y="1588.11"/><use href="#cP" x="276.41" y="1588.69"/><use href="#cP" x="285.68" y="1587.84"/><use href="#cP" x="295.56" y="1588.14"/><use href="#cP" x="305.9" y="1587.76"/><use href="#cP" x="315.62" y="1588.43"/><use href="#cP" x="325.48" y="1588.47"/><use href="#cP" x="335.11" y="1587.94"/>
<use href="#cP" x="100.25" y="1582.26"/><use href="#cP" x="110.45" y="1581.92"/><use href="#cP" x="119.61" y="1582.73"/><use href="#cP" x="129.4" y="1581.91"/><use href="#cP" x="138.93" y="1582.49"/><use href="#cP" x="148.97" y="1583"/><use href="#cP" x="159.27" y="1583.01"/><use href="#cP" x="168.39" y="1581.93"/><use href="#cP" x="177.97" y="1582.43"/><use href="#cP" x="188.32" y="1582.36"/><use href="#cP" x="197.59" y="1582.33"/><use href="#cP" x="107.98" y="1593.49"/><use href="#cP" x="118.03" y="1593.7"/><use href="#cP" x="127.86" y="1592.83"/><use href="#cP" x="137.96" y="1593.04"/><use href="#cP" x="147.61" y="1593.13"/><use href="#cP" x="157.7" y="1592.92"/><use href="#cP" x="167.13" y="1592.98"/><use href="#cP" x="176.95" y="1593.75"/><use href="#cP" x="187.3" y="1593.08"/><use href="#cP" x="197.04" y="1593.88"/><use href="#cP" x="105.01" y="1604.68"/><use href="#cP" x="114.99" y="1605.18"/><use href="#cP" x="124.86" y="1604.52"/><use href="#cP" x="134.02" y="1605.38"/><use href="#cP" x="144.07" y="1605.5"/><use href="#cP" x="152.95" y="1604.75"/><use href="#cP" x="162.71" y="1604.63"/><use href="#cP" x="173.25" y="1605.1"/><use href="#cP" x="182.89" y="1604.85"/><use href="#cP" x="192.51" y="1604.94"/><use href="#cP" x="106.9" y="1615.62"/><use href="#cP" x="117.51" y="1614.81"/><use href="#cP" x="127.08" y="1615.43"/><use href="#cP" x="136.62" y="1615.13"/><use href="#cP" x="146.47" y="1614.93"/><use href="#cP" x="156.5" y="1615.41"/><use href="#cP" x="166.82" y="1614.93"/><use href="#cP" x="176.1" y="1615.08"/><use href="#cP" x="186.69" y="1614.91"/><use href="#cP" x="196.24" y="1614.93"/><use href="#cP" x="101.3" y="1625.77"/><use href="#cP" x="110.25" y="1625.24"/><use href="#cP" x="120.27" y="1625.77"/><use href="#cP" x="130.2" y="1625.22"/><use href="#cP" x="139.41" y="1625.95"/><use href="#cP" x="149.34" y="1625.45"/><use href="#cP" x="158.92" y="1626.26"/><use href="#cP" x="168.61" y="1625.79"/><use href="#cP" x="178.34" y="1625.61"/><use href="#cP" x="188.54" y="1626.31"/><use href="#cP" x="197.72" y="1625.35"/><use href="#cP" x="100.23" y="1635.64"/><use href="#cP" x="109.22" y="1636.48"/><use href="#cP" x="119.35" y="1636.38"/><use href="#cP" x="129.05" y="1636.46"/><use href="#cP" x="138.82" y="1635.6"/><use href="#cP" x="148.09" y="1636.06"/><use href="#cP" x="158.43" y="1636.49"/><use href="#cP" x="167.59" y="1636.15"/><use href="#cP" x="177.59" y="1636.01"/><use href="#cP" x="187.07" y="1635.74"/><use href="#cP" x="197.16" y="1636.51"/><use href="#cP" x="101.47" y="1646.42"/><use href="#cP" x="112.11" y="1646.99"/><use href="#cP" x="121.46" y="1645.98"/><use href="#cP" x="132.16" y="1647"/><use href="#cP" x="141.65" y="1645.89"/><use href="#cP" x="152.05" y="1646.29"/><use href="#cP" x="161.98" y="1646.57"/><use href="#cP" x="171.85" y="1646.02"/><use href="#cP" x="181.76" y="1646.1"/><use href="#cP" x="191.33" y="1646.84"/><use href="#cP" x="105.33" y="1656.76"/><use href="#cP" x="114.56" y="1657.02"/><use href="#cP" x="124.7" y="1657"/><use href="#cP" x="134.15" y="1656.84"/><use href="#cP" x="144.59" y="1657.62"/><use href="#cP" x="153.75" y="1657.22"/><use href="#cP" x="164.31" y="1656.59"/><use href="#cP" x="174.23" y="1656.68"/><use href="#cP" x="183.83" y="1657.2"/><use href="#cP" x="193.7" y="1656.91"/>
<use href="#cG" x="239.92" y="1604.38"/><use href="#cG" x="246.64" y="1604.48"/><use href="#cG" x="253.38" y="1604.21"/><use href="#cG" x="259.67" y="1604.43"/><use href="#cG" x="266.85" y="1603.97"/><use href="#cG" x="273.83" y="1604.62"/><use href="#cG" x="280.24" y="1603.9"/><use href="#cG" x="286.97" y="1603.81"/><use href="#cG" x="293.34" y="1604.2"/><use href="#cG" x="300.02" y="1604.22"/><use href="#cG" x="307.15" y="1603.73"/><use href="#cG" x="313.99" y="1603.78"/><use href="#cG" x="320.8" y="1604.62"/><use href="#cG" x="327.3" y="1603.75"/><use href="#cG" x="334" y="1604.14"/><use href="#cG" x="341.17" y="1603.85"/><use href="#cG" x="237.07" y="1612.45"/><use href="#cG" x="243.97" y="1612.24"/><use href="#cG" x="250.47" y="1612.44"/><use href="#cG" x="257.79" y="1612.41"/><use href="#cG" x="265.24" y="1611.46"/><use href="#cG" x="272.15" y="1612.37"/><use href="#cG" x="278.45" y="1611.68"/><use href="#cG" x="286.17" y="1611.45"/><use href="#cG" x="293.34" y="1611.59"/><use href="#cG" x="300.29" y="1611.43"/><use href="#cG" x="307" y="1612.36"/><use href="#cG" x="313.74" y="1611.57"/><use href="#cG" x="321.06" y="1611.64"/><use href="#cG" x="327.62" y="1611.48"/><use href="#cG" x="334.78" y="1612.38"/><use href="#cG" x="342.32" y="1612.33"/><use href="#cG" x="238.95" y="1619.34"/><use href="#cG" x="245.93" y="1619.04"/><use href="#cG" x="253.48" y="1618.83"/><use href="#cG" x="260.74" y="1619.07"/><use href="#cG" x="267.48" y="1619.46"/><use href="#cG" x="274.03" y="1619.59"/><use href="#cG" x="281.59" y="1618.87"/><use href="#cG" x="288.78" y="1618.72"/><use href="#cG" x="296" y="1619.09"/><use href="#cG" x="302.4" y="1619.32"/><use href="#cG" x="309.51" y="1618.61"/><use href="#cG" x="316.84" y="1618.46"/><use href="#cG" x="323.95" y="1618.7"/><use href="#cG" x="330.8" y="1619.58"/><use href="#cG" x="337.77" y="1619.2"/><use href="#cG" x="344.53" y="1618.4"/><use href="#cG" x="240.96" y="1626.29"/><use href="#cG" x="248.69" y="1626.63"/><use href="#cG" x="255.73" y="1627.19"/><use href="#cG" x="262.49" y="1626.39"/><use href="#cG" x="270.15" y="1626.14"/><use href="#cG" x="276.65" y="1626.54"/><use href="#cG" x="283.89" y="1626.54"/><use href="#cG" x="291.15" y="1626.81"/><use href="#cG" x="298.66" y="1626.36"/><use href="#cG" x="305.84" y="1626.68"/><use href="#cG" x="312.49" y="1627.24"/><use href="#cG" x="319.74" y="1626.29"/><use href="#cG" x="326.74" y="1626.88"/><use href="#cG" x="334.66" y="1627.05"/><use href="#cG" x="341.33" y="1626.43"/><use href="#cG" x="238.08" y="1634.03"/><use href="#cG" x="245.54" y="1633.68"/><use href="#cG" x="252.53" y="1633.79"/><use href="#cG" x="259.72" y="1634.14"/><use href="#cG" x="265.94" y="1634.34"/><use href="#cG" x="272.64" y="1633.89"/><use href="#cG" x="279.91" y="1633.54"/><use href="#cG" x="286.46" y="1634.19"/><use href="#cG" x="293.32" y="1633.92"/><use href="#cG" x="301.16" y="1633.43"/><use href="#cG" x="307.32" y="1633.99"/><use href="#cG" x="314.53" y="1634.03"/><use href="#cG" x="321.74" y="1633.47"/><use href="#cG" x="328.14" y="1633.62"/><use href="#cG" x="334.79" y="1634.32"/><use href="#cG" x="342.43" y="1634.12"/><use href="#cG" x="240.22" y="1641.98"/><use href="#cG" x="248.1" y="1641.53"/><use href="#cG" x="255.24" y="1641.51"/><use href="#cG" x="261.87" y="1641.1"/><use href="#cG" x="269.02" y="1641.02"/><use href="#cG" x="276.26" y="1641.87"/><use href="#cG" x="283.77" y="1641.99"/><use href="#cG" x="290.93" y="1641.29"/><use href="#cG" x="297.91" y="1641.49"/><use href="#cG" x="305.29" y="1641.6"/><use href="#cG" x="311.91" y="1641.74"/><use href="#cG" x="319.75" y="1641.23"/><use href="#cG" x="326.81" y="1640.99"/><use href="#cG" x="333.33" y="1641.25"/><use href="#cG" x="340.96" y="1642.11"/><use href="#cG" x="237.39" y="1649.08"/><use href="#cG" x="244.28" y="1649.08"/><use href="#cG" x="250.4" y="1649.77"/><use href="#cG" x="257.55" y="1649.52"/><use href="#cG" x="264.34" y="1649.86"/><use href="#cG" x="270.91" y="1649.69"/><use href="#cG" x="277.89" y="1649.71"/><use href="#cG" x="284.39" y="1649.56"/><use href="#cG" x="291.28" y="1649.06"/><use href="#cG" x="297.69" y="1649.43"/><use href="#cG" x="304.31" y="1649.78"/><use href="#cG" x="311.14" y="1648.72"/><use href="#cG" x="317.86" y="1649.8"/><use href="#cG" x="324.85" y="1648.86"/><use href="#cG" x="331.3" y="1648.74"/><use href="#cG" x="338.72" y="1649.45"/><use href="#cG" x="345.48" y="1649.57"/><use href="#cG" x="242.42" y="1657.54"/><use href="#cG" x="249.42" y="1657.81"/><use href="#cG" x="256.57" y="1657.9"/><use href="#cG" x="262.51" y="1657.87"/><use href="#cG" x="270.05" y="1657.96"/><use href="#cG" x="275.94" y="1657.08"/><use href="#cG" x="282.64" y="1656.87"/><use href="#cG" x="290.07" y="1657.8"/><use href="#cG" x="296.55" y="1657.82"/><use href="#cG" x="303.25" y="1657.17"/><use href="#cG" x="309.41" y="1656.95"/><use href="#cG" x="316.76" y="1657.07"/><use href="#cG" x="323.02" y="1657.34"/><use href="#cG" x="329.42" y="1657.14"/><use href="#cG" x="336.37" y="1657.69"/><use href="#cG" x="343.15" y="1657.21"/>
<use href="#cZ" x="108.09" y="1670.3"/><use href="#cZ" x="117.02" y="1670.32"/><use href="#cZ" x="125.81" y="1670.28"/><use href="#cZ" x="134.84" y="1670.35"/><use href="#cZ" x="143.77" y="1670.34"/><use href="#cZ" x="152.76" y="1670.24"/><use href="#cZ" x="161.77" y="1670.22"/><use href="#cZ" x="170.71" y="1670.23"/><use href="#cZ" x="179.5" y="1670.24"/><use href="#cZ" x="188.6" y="1670.4"/><use href="#cZ" x="197.4" y="1670.3"/><use href="#cZ" x="206.45" y="1670.36"/><use href="#cZ" x="215.34" y="1670.3"/><use href="#cZ" x="224.32" y="1670.37"/><use href="#cZ" x="233.25" y="1670.39"/><use href="#cZ" x="242.21" y="1670.24"/><use href="#cZ" x="251.24" y="1670.3"/><use href="#cZ" x="260.07" y="1670.33"/><use href="#cZ" x="269.02" y="1670.36"/><use href="#cZ" x="278.09" y="1670.36"/><use href="#cZ" x="287.03" y="1670.27"/><use href="#cZ" x="295.93" y="1670.28"/><use href="#cZ" x="304.98" y="1670.22"/><use href="#cZ" x="313.93" y="1670.21"/><use href="#cZ" x="322.74" y="1670.25"/><use href="#cZ" x="331.83" y="1670.3"/><use href="#cZ" x="340.68" y="1670.38"/><use href="#cZ" x="101.75" y="1679.19"/><use href="#cZ" x="110.76" y="1679.25"/><use href="#cZ" x="119.75" y="1679.23"/><use href="#cZ" x="128.62" y="1679.17"/><use href="#cZ" x="137.53" y="1679.27"/><use href="#cZ" x="146.58" y="1679.25"/><use href="#cZ" x="155.43" y="1679.19"/><use href="#cZ" x="164.5" y="1679.22"/><use href="#cZ" x="173.33" y="1679.19"/><use href="#cZ" x="182.43" y="1679.15"/><use href="#cZ" x="191.24" y="1679.16"/><use href="#cZ" x="200.29" y="1679.27"/><use href="#cZ" x="209.13" y="1679.13"/><use href="#cZ" x="218.1" y="1679.17"/><use href="#cZ" x="227.1" y="1679.13"/><use href="#cZ" x="236.02" y="1679.14"/><use href="#cZ" x="245.1" y="1679.25"/><use href="#cZ" x="253.87" y="1679.29"/><use href="#cZ" x="262.82" y="1679.18"/><use href="#cZ" x="271.95" y="1679.26"/><use href="#cZ" x="280.85" y="1679.19"/><use href="#cZ" x="289.69" y="1679.23"/><use href="#cZ" x="298.62" y="1679.14"/><use href="#cZ" x="307.63" y="1679.11"/><use href="#cZ" x="316.58" y="1679.26"/><use href="#cZ" x="325.59" y="1679.2"/><use href="#cZ" x="334.53" y="1679.19"/><use href="#cZ" x="343.38" y="1679.22"/><use href="#cZ" x="104.98" y="1687.65"/><use href="#cZ" x="114.03" y="1687.59"/><use href="#cZ" x="122.91" y="1687.65"/><use href="#cZ" x="131.83" y="1687.55"/><use href="#cZ" x="140.84" y="1687.68"/><use href="#cZ" x="149.8" y="1687.64"/><use href="#cZ" x="158.77" y="1687.64"/><use href="#cZ" x="167.68" y="1687.59"/><use href="#cZ" x="176.56" y="1687.63"/><use href="#cZ" x="185.47" y="1687.58"/><use href="#cZ" x="194.56" y="1687.64"/><use href="#cZ" x="203.48" y="1687.55"/><use href="#cZ" x="212.38" y="1687.59"/><use href="#cZ" x="221.37" y="1687.58"/><use href="#cZ" x="230.34" y="1687.69"/><use href="#cZ" x="239.19" y="1687.63"/><use href="#cZ" x="248.26" y="1687.58"/><use href="#cZ" x="257.15" y="1687.69"/><use href="#cZ" x="266.01" y="1687.61"/><use href="#cZ" x="274.98" y="1687.66"/><use href="#cZ" x="284.09" y="1687.6"/><use href="#cZ" x="292.87" y="1687.61"/><use href="#cZ" x="301.91" y="1687.64"/><use href="#cZ" x="310.85" y="1687.63"/><use href="#cZ" x="319.87" y="1687.6"/><use href="#cZ" x="328.73" y="1687.69"/><use href="#cZ" x="337.64" y="1687.64"/><use href="#cZ" x="107.98" y="1696.05"/><use href="#cZ" x="116.87" y="1696.1"/><use href="#cZ" x="125.87" y="1695.91"/><use href="#cZ" x="134.8" y="1695.98"/><use href="#cZ" x="143.7" y="1695.98"/><use href="#cZ" x="152.73" y="1696.04"/><use href="#cZ" x="161.67" y="1695.95"/><use href="#cZ" x="170.59" y="1696.05"/><use href="#cZ" x="179.69" y="1696.01"/><use href="#cZ" x="188.49" y="1696.06"/><use href="#cZ" x="197.48" y="1695.94"/><use href="#cZ" x="206.38" y="1696.06"/><use href="#cZ" x="215.46" y="1696.03"/><use href="#cZ" x="224.34" y="1696.01"/><use href="#cZ" x="233.25" y="1696.09"/><use href="#cZ" x="242.22" y="1696.03"/><use href="#cZ" x="251.26" y="1696.06"/><use href="#cZ" x="260.14" y="1695.96"/><use href="#cZ" x="269.11" y="1695.93"/><use href="#cZ" x="278.12" y="1695.97"/><use href="#cZ" x="287.07" y="1695.95"/><use href="#cZ" x="295.93" y="1695.95"/><use href="#cZ" x="304.89" y="1695.94"/><use href="#cZ" x="313.75" y="1696.04"/><use href="#cZ" x="322.76" y="1695.95"/><use href="#cZ" x="331.71" y="1696"/><use href="#cZ" x="340.69" y="1696.03"/><use href="#cZ" x="101.83" y="1704.37"/><use href="#cZ" x="110.84" y="1704.47"/><use href="#cZ" x="119.61" y="1704.47"/><use href="#cZ" x="128.73" y="1704.46"/><use href="#cZ" x="137.53" y="1704.47"/><use href="#cZ" x="146.58" y="1704.3"/><use href="#cZ" x="155.4" y="1704.49"/><use href="#cZ" x="164.48" y="1704.35"/><use href="#cZ" x="173.32" y="1704.33"/><use href="#cZ" x="182.3" y="1704.46"/><use href="#cZ" x="191.27" y="1704.33"/><use href="#cZ" x="200.33" y="1704.46"/><use href="#cZ" x="209.13" y="1704.48"/><use href="#cZ" x="218.17" y="1704.46"/><use href="#cZ" x="227.13" y="1704.48"/><use href="#cZ" x="236.11" y="1704.47"/><use href="#cZ" x="244.94" y="1704.44"/><use href="#cZ" x="253.96" y="1704.45"/><use href="#cZ" x="262.89" y="1704.48"/><use href="#cZ" x="271.86" y="1704.35"/><use href="#cZ" x="280.75" y="1704.33"/><use href="#cZ" x="289.75" y="1704.31"/><use href="#cZ" x="298.69" y="1704.33"/><use href="#cZ" x="307.65" y="1704.4"/><use href="#cZ" x="316.61" y="1704.47"/><use href="#cZ" x="325.45" y="1704.47"/><use href="#cZ" x="334.49" y="1704.41"/><use href="#cZ" x="343.48" y="1704.47"/><use href="#cZ" x="104.97" y="1712.88"/><use href="#cZ" x="114.04" y="1712.82"/><use href="#cZ" x="122.93" y="1712.93"/><use href="#cZ" x="131.76" y="1712.92"/><use href="#cZ" x="140.84" y="1712.99"/><use href="#cZ" x="149.72" y="1713"/><use href="#cZ" x="158.7" y="1712.9"/><use href="#cZ" x="167.73" y="1712.81"/><use href="#cZ" x="176.64" y="1712.93"/><use href="#cZ" x="185.52" y="1712.97"/><use href="#cZ" x="194.47" y="1712.89"/><use href="#cZ" x="203.46" y="1712.95"/><use href="#cZ" x="212.34" y="1712.89"/><use href="#cZ" x="221.33" y="1712.91"/><use href="#cZ" x="230.37" y="1712.86"/><use href="#cZ" x="239.32" y="1712.88"/><use href="#cZ" x="248.2" y="1712.85"/><use href="#cZ" x="257.15" y="1712.99"/><use href="#cZ" x="266.13" y="1712.96"/><use href="#cZ" x="275.02" y="1712.86"/><use href="#cZ" x="283.96" y="1712.92"/><use href="#cZ" x="292.98" y="1712.96"/><use href="#cZ" x="301.81" y="1712.94"/><use href="#cZ" x="310.93" y="1712.91"/><use href="#cZ" x="319.71" y="1712.86"/><use href="#cZ" x="328.65" y="1712.84"/><use href="#cZ" x="337.78" y="1712.92"/><use href="#cZ" x="108.03" y="1721.36"/><use href="#cZ" x="117.03" y="1721.32"/><use href="#cZ" x="125.92" y="1721.33"/><use href="#cZ" x="134.89" y="1721.32"/><use href="#cZ" x="143.84" y="1721.24"/><use href="#cZ" x="152.78" y="1721.29"/><use href="#cZ" x="161.75" y="1721.22"/><use href="#cZ" x="170.59" y="1721.21"/><use href="#cZ" x="179.65" y="1721.38"/><use href="#cZ" x="188.58" y="1721.27"/><use href="#cZ" x="197.56" y="1721.36"/><use href="#cZ" x="206.46" y="1721.25"/><use href="#cZ" x="215.36" y="1721.28"/><use href="#cZ" x="224.31" y="1721.29"/><use href="#cZ" x="233.33" y="1721.39"/><use href="#cZ" x="242.16" y="1721.31"/><use href="#cZ" x="251.11" y="1721.22"/><use href="#cZ" x="260.21" y="1721.32"/><use href="#cZ" x="269.18" y="1721.29"/><use href="#cZ" x="277.95" y="1721.28"/><use href="#cZ" x="287.02" y="1721.39"/><use href="#cZ" x="296.05" y="1721.3"/><use href="#cZ" x="304.88" y="1721.22"/><use href="#cZ" x="313.88" y="1721.24"/><use href="#cZ" x="322.73" y="1721.2"/><use href="#cZ" x="331.65" y="1721.34"/><use href="#cZ" x="340.62" y="1721.39"/><use href="#cZ" x="101.72" y="1730.07"/><use href="#cZ" x="110.68" y="1729.9"/><use href="#cZ" x="119.74" y="1729.95"/><use href="#cZ" x="128.7" y="1729.94"/><use href="#cZ" x="137.51" y="1730.05"/><use href="#cZ" x="146.59" y="1730.07"/><use href="#cZ" x="155.55" y="1729.92"/><use href="#cZ" x="164.48" y="1730.04"/><use href="#cZ" x="173.39" y="1730.09"/><use href="#cZ" x="182.3" y="1730.09"/><use href="#cZ" x="191.34" y="1729.9"/><use href="#cZ" x="200.15" y="1730.03"/><use href="#cZ" x="209.26" y="1729.92"/><use href="#cZ" x="218.11" y="1730.05"/><use href="#cZ" x="227.03" y="1730.07"/><use href="#cZ" x="236.05" y="1729.91"/><use href="#cZ" x="244.97" y="1730.01"/><use href="#cZ" x="253.94" y="1730.04"/><use href="#cZ" x="262.83" y="1730.06"/><use href="#cZ" x="271.82" y="1730.03"/><use href="#cZ" x="280.83" y="1729.98"/><use href="#cZ" x="289.73" y="1730.06"/><use href="#cZ" x="298.79" y="1730.06"/><use href="#cZ" x="307.66" y="1729.96"/><use href="#cZ" x="316.51" y="1730.09"/><use href="#cZ" x="325.59" y="1730.07"/><use href="#cZ" x="334.47" y="1730.02"/><use href="#cZ" x="343.55" y="1730.07"/><use href="#cZ" x="105.02" y="1738.36"/><use href="#cZ" x="113.94" y="1738.48"/><use href="#cZ" x="122.88" y="1738.44"/><use href="#cZ" x="131.87" y="1738.48"/><use href="#cZ" x="140.86" y="1738.36"/><use href="#cZ" x="149.65" y="1738.35"/><use href="#cZ" x="158.68" y="1738.42"/><use href="#cZ" x="167.71" y="1738.48"/><use href="#cZ" x="176.51" y="1738.47"/><use href="#cZ" x="185.61" y="1738.47"/><use href="#cZ" x="194.51" y="1738.35"/><use href="#cZ" x="203.52" y="1738.46"/><use href="#cZ" x="212.44" y="1738.48"/><use href="#cZ" x="221.32" y="1738.32"/><use href="#cZ" x="230.31" y="1738.46"/><use href="#cZ" x="239.19" y="1738.45"/><use href="#cZ" x="248.29" y="1738.35"/><use href="#cZ" x="257.17" y="1738.44"/><use href="#cZ" x="266.09" y="1738.34"/><use href="#cZ" x="275" y="1738.45"/><use href="#cZ" x="284.06" y="1738.39"/><use href="#cZ" x="292.87" y="1738.46"/><use href="#cZ" x="301.95" y="1738.35"/><use href="#cZ" x="310.87" y="1738.48"/><use href="#cZ" x="319.88" y="1738.4"/><use href="#cZ" x="328.75" y="1738.42"/><use href="#cZ" x="337.64" y="1738.34"/>
<rect x="97.5" y="1745" width="251" height="117.5" fill="url(#sap)"/>
<text x="55.6" y="1466.9" font-size="23.5">Cu</text>
<text x="59.7" y="1546.5" font-size="23.5">Ni</text>
<text x="59.7" y="1626.9" font-size="23.5">Pt</text>
<text x="356.4" y="1466.9" font-size="23.5">Cu</text>
<text x="360.5" y="1546.5" font-size="23.5">Pt</text>
<text x="360.5" y="1626.9" font-size="23.5">Ni</text>
<text font-size="23.5" text-anchor="middle" fill="#f0a22e" transform="translate(413 1458.8) rotate(-90)">SEC</text>
<text font-size="23.5" text-anchor="middle" fill="#e23a36" transform="translate(413 1582.9) rotate(-90)">High-<tspan font-style="italic">γ</tspan> metals</text>
<text font-size="23.5" text-anchor="middle" fill="#3566b4" transform="translate(413 1762.3) rotate(-90)">Epitaxial template</text>
<text font-size="23.5" text-anchor="middle" transform="translate(75.9 1773) rotate(-90)">Cu(111)/sapphire</text>
<path d="M361.7 1687.6 C368 1687.6 371 1688 371 1694 L371 1758 C371 1762 373 1763.7 379.7 1763.7 C373 1763.7 371 1765.5 371 1769.5 L371 1833 C371 1839 368 1839.4 361.7 1839.4" fill="none" stroke="#2a5caa" stroke-width="1.9"/>
<text x="53" y="1428.6" font-size="32" font-weight="bold">i</text>
</g>
<g id="p_j">
<rect x="486.8" y="1423.8" width="312.2" height="441.7" fill="#414141"/>
<rect x="486.8" y="1423.8" width="312.2" height="441.7" fill="url(#jpat)"/>
<rect x="486.8" y="1423.8" width="312.2" height="441.7" fill="#000" filter="url(#jnz)"/>
<rect x="486.8" y="1423.8" width="312.2" height="441.7" fill="#fff" filter="url(#jnzw)"/>
<rect x="490.6" y="1428" width="90.2" height="37.9" fill="#222" fill-opacity="0.72"/>
<g stroke="#fff" stroke-width="1.5" fill="none"><circle cx="503.3" cy="1447.9" r="10.6"/><path d="M495.8 1440.4L510.8 1455.4M495.8 1455.4L510.8 1440.4"/></g>
<text x="518.5" y="1458" font-size="25" fill="#fff" letter-spacing="1.3">[110]</text><line x1="544.65" y1="1434.8" x2="553.25" y2="1434.8" stroke="#fff" stroke-width="1.7"/>
<rect x="545.3" y="1543.4" width="193" height="37.4" fill="#222" fill-opacity="0.72"/>
<text x="641.5" y="1568.7" font-size="27" text-anchor="middle" fill="#fff">Cu<tspan dy="9" font-size="15.2">90</tspan><tspan dy="-9" font-size="1">&#8203;</tspan>Pt<tspan dy="9" font-size="15.2">5</tspan><tspan dy="-9" font-size="1">&#8203;</tspan>Ni<tspan dy="9" font-size="15.2">5</tspan><tspan dy="-9" font-size="1">&#8203;</tspan>(111)</text>
<rect x="563.4" y="1594" width="157.5" height="94.3" fill="none" stroke="#fff" stroke-width="1.7" stroke-dasharray="7 6"/>
<text x="748.4" y="1843" font-size="26.5" text-anchor="middle" fill="#fff">1 nm</text><line x1="712.7" y1="1852.5" x2="783.9" y2="1852.5" stroke="#fff" stroke-width="2"/>
<text x="462" y="1428" font-size="32" font-weight="bold">j</text>
<rect x="823.4" y="1423.8" width="213.6" height="138" fill="#050100"/>
<rect x="823.4" y="1423.8" width="213.6" height="138" fill="url(#jcu)"/>
<text x="832.3" y="1457" font-size="26.5" fill="#fff">Cu</text>
<text x="981.6" y="1541.9" font-size="26.5" text-anchor="middle" fill="#fff">0.5 nm</text><line x1="939.8" y1="1549.8" x2="1023.7" y2="1549.8" stroke="#fff" stroke-width="2"/>
<rect x="823.4" y="1576" width="213.6" height="137.6" fill="#0a0010"/>
<rect x="823.4" y="1576" width="213.6" height="137.6" fill="url(#jpt)"/>
<text x="836.4" y="1609.2" font-size="26.5" fill="#fff">Pt</text>
<text x="981.6" y="1693.7" font-size="26.5" text-anchor="middle" fill="#fff">0.5 nm</text><line x1="939.8" y1="1701.6" x2="1023.7" y2="1701.6" stroke="#fff" stroke-width="2"/>
<rect x="823.4" y="1727.9" width="213.6" height="137.6" fill="#020c00"/>
<rect x="823.4" y="1727.9" width="213.6" height="137.6" fill="url(#jni)"/>
<text x="836.4" y="1760.8" font-size="26.5" fill="#fff">Ni</text>
<text x="981.6" y="1845.6" font-size="26.5" text-anchor="middle" fill="#fff">0.5 nm</text><line x1="939.8" y1="1853.5" x2="1023.7" y2="1853.5" stroke="#fff" stroke-width="2"/>
</g>
<g id="p_k">
<path d="M1135.83 1505.36 L1212.69 1538.26 L1266.62 1495.11 L1266.62 1512.71 L1212.69 1562.6 L1135.83 1525.38Z" fill="#7ffcf0"/><g filter="url(#krag)"><path d="M1128.54 1443.94 L1191.92 1409.42 L1270.94 1432.61 L1266.62 1502.11 L1212.69 1546.26 L1135.83 1512.36Z" fill="#e9a861"/></g><path d="M1131.54 1444.94 L1191.92 1413.42 L1267.94 1433.61 L1264.62 1493.11 L1212.69 1535.26 L1137.83 1503.36Z" fill="#e9a861"/><line x1="1128.54" y1="1443.94" x2="1191.92" y2="1409.42" stroke="#8a8a8a" stroke-width="0.9"/><line x1="1191.92" y1="1409.42" x2="1270.94" y2="1432.61" stroke="#8a8a8a" stroke-width="0.9"/><line x1="1128.54" y1="1443.94" x2="1212.69" y2="1472.25" stroke="#8a8a8a" stroke-width="0.9"/><line x1="1212.69" y1="1472.25" x2="1270.94" y2="1432.61" stroke="#8a8a8a" stroke-width="0.9"/><line x1="1128.54" y1="1443.94" x2="1135.83" y2="1525.38" stroke="#8a8a8a" stroke-width="0.9"/><line x1="1212.69" y1="1472.25" x2="1212.69" y2="1562.6" stroke="#8a8a8a" stroke-width="0.9"/><line x1="1270.94" y1="1432.61" x2="1266.62" y2="1512.71" stroke="#8a8a8a" stroke-width="0.9"/><line x1="1135.83" y1="1525.38" x2="1212.69" y2="1562.6" stroke="#8a8a8a" stroke-width="0.9"/><line x1="1212.69" y1="1562.6" x2="1266.62" y2="1512.71" stroke="#8a8a8a" stroke-width="0.9"/><text x="1198.7" y="1449.9" font-size="25.5" text-anchor="middle">Cu</text>
<path d="M1135.83 1669.87 L1213.5 1703.58 L1266.62 1657.73 L1266.62 1675.87 L1213.5 1727.11 L1135.83 1688Z" fill="#7ffcf0"/><g filter="url(#krag)"><path d="M1128 1608.99 L1189.22 1573.39 L1270.94 1597.12 L1266.62 1664.73 L1213.5 1711.58 L1135.83 1676.87Z" fill="#ff5cf0"/></g><path d="M1131 1609.99 L1189.22 1577.39 L1267.94 1598.12 L1264.62 1655.73 L1213.5 1700.58 L1137.83 1667.87Z" fill="#ff5cf0"/><line x1="1128" y1="1608.99" x2="1189.22" y2="1573.39" stroke="#8a8a8a" stroke-width="0.9"/><line x1="1189.22" y1="1573.39" x2="1270.94" y2="1597.12" stroke="#8a8a8a" stroke-width="0.9"/><line x1="1128" y1="1608.99" x2="1212.69" y2="1637.57" stroke="#8a8a8a" stroke-width="0.9"/><line x1="1212.69" y1="1637.57" x2="1270.94" y2="1597.12" stroke="#8a8a8a" stroke-width="0.9"/><line x1="1128" y1="1608.99" x2="1135.83" y2="1688" stroke="#8a8a8a" stroke-width="0.9"/><line x1="1212.69" y1="1637.57" x2="1213.5" y2="1727.11" stroke="#8a8a8a" stroke-width="0.9"/><line x1="1270.94" y1="1597.12" x2="1266.62" y2="1675.87" stroke="#8a8a8a" stroke-width="0.9"/><line x1="1135.83" y1="1688" x2="1213.5" y2="1727.11" stroke="#8a8a8a" stroke-width="0.9"/><line x1="1213.5" y1="1727.11" x2="1266.62" y2="1675.87" stroke="#8a8a8a" stroke-width="0.9"/><text x="1200" y="1612.5" font-size="25.5" text-anchor="middle">Pt</text>
<path d="M1135.29 1845.77 L1189.22 1813.95 L1264.74 1832.29 L1264.74 1848.47 L1210.8 1899.17 L1135.29 1861.95Z" fill="#9cfdf2"/>
<path d="M1135.29 1847.12 L1211.34 1876.25 L1264.74 1833.64 L1264.74 1848.47 L1210.8 1899.17 L1135.29 1861.95Z" fill="#7ffcf0"/>
<g clip-path="url(#kniclip)"><rect x="1126" y="1742.64" width="145.43" height="158.53" fill="#000" filter="url(#kgrn)"/></g>
<g clip-path="url(#kniclip2)"><rect x="1126" y="1742.64" width="145.43" height="158.53" fill="#000" filter="url(#kgrn2)"/></g>
<line x1="1128" y1="1784.28" x2="1189.22" y2="1744.64" stroke="#8a8a8a" stroke-width="0.9"/>
<line x1="1189.22" y1="1744.64" x2="1267.43" y2="1770.8" stroke="#8a8a8a" stroke-width="0.9"/>
<line x1="1128" y1="1784.28" x2="1212.15" y2="1816.11" stroke="#8a8a8a" stroke-width="0.9"/>
<line x1="1212.15" y1="1816.11" x2="1267.43" y2="1770.8" stroke="#8a8a8a" stroke-width="0.9"/>
<line x1="1128" y1="1784.28" x2="1135.29" y2="1861.95" stroke="#8a8a8a" stroke-width="0.9"/>
<line x1="1212.15" y1="1816.11" x2="1210.8" y2="1899.17" stroke="#8a8a8a" stroke-width="0.9"/>
<line x1="1267.43" y1="1770.8" x2="1264.74" y2="1848.47" stroke="#8a8a8a" stroke-width="0.9"/>
<line x1="1135.29" y1="1861.95" x2="1210.8" y2="1899.17" stroke="#8a8a8a" stroke-width="0.9"/>
<line x1="1210.8" y1="1899.17" x2="1264.74" y2="1848.47" stroke="#8a8a8a" stroke-width="0.9"/>
<line x1="1189.22" y1="1744.64" x2="1189.22" y2="1813.95" stroke="#8a8a8a" stroke-width="0.9"/>
<text x="1200" y="1785.9" font-size="25.5" text-anchor="middle">Ni</text>
<text x="1103" y="1428.6" font-size="32" font-weight="bold">k</text>
</g>
<g id="p_l">
<g clip-path="url(#lclip)">
<path d="M1745.45 1821.7 L1748.53 1821.7 L1750.85 1873.7" fill="none" stroke="#72f0fa" stroke-width="1.9" stroke-linejoin="round" marker-start="url(#mC)" marker-mid="url(#mC)" marker-end="url(#mC)"/>
<path d="M1762.43 1873.7 L1766.3 1821.7 L1770.16 1821.7 L1773.24 1787.34 L1776.33 1796.66" fill="none" stroke="#72f0fa" stroke-width="1.9" stroke-linejoin="round" marker-start="url(#mC)" marker-mid="url(#mC)" marker-end="url(#mC)"/>
<path d="M1783.28 1873.7 L1787.14 1765.29 L1791.01 1768.78 L1794.87 1774.72 L1799.5 1753.27 L1804.13 1744.9 L1808.77 1739.29 L1813.4 1736.29 L1816.49 1730.93 L1820.35 1729.29 L1822.67 1718.91 L1826.53 1727.73 L1830.39 1721.41 L1835.79 1711.27 L1839.65 1703.3 L1842.74 1703.3 L1845.83 1678.52 L1848.92 1648.98 L1852.78 1612.08 L1856.64 1573.41 L1860.5 1532.21 L1862.82 1510.16 L1866.68 1493.59 L1870.54 1491.85 L1872.86 1487.81 L1875.18 1487.81 L1877.49 1487.81 L1879.81 1487.81 L1882.12 1487.81 L1884.44 1487.81 L1886.76 1487.81 L1889.07 1487.81 L1891.39 1487.81 L1893.71 1487.81 L1896.02 1487.81 L1898.34 1487.81 L1900.66 1487.81 L1902.97 1487.81 L1905.29 1487.81 L1907.61 1487.81 L1909.92 1487.81" fill="none" stroke="#72f0fa" stroke-width="1.9" stroke-linejoin="round" marker-start="url(#mC)" marker-mid="url(#mC)" marker-end="url(#mC)"/>
<path d="M1399.5 1700.98 L1402.86 1676.9 L1406.22 1682.34 L1409.58 1678.77 L1412.94 1678.33 L1416.3 1684.07 L1419.65 1686.68 L1423.01 1682.67 L1426.37 1680.95 L1429.73 1678.99 L1433.09 1686.38 L1436.45 1686.64 L1439.81 1680.28 L1443.17 1681.04 L1446.53 1677.68 L1449.89 1679.45 L1453.25 1682.92 L1456.6 1683.48 L1459.96 1674.43 L1463.32 1683.56 L1466.68 1685.16 L1470.04 1686.3 L1473.4 1682.38 L1476.76 1682.24 L1480.12 1683.82 L1483.48 1682.93 L1486.84 1681.88 L1490.19 1680.55 L1493.55 1679.28 L1496.91 1682.12 L1500.27 1688.51 L1503.63 1680.58 L1506.99 1687.36 L1510.35 1683.4 L1513.71 1687.57 L1517.07 1682.88 L1520.43 1685.38 L1523.79 1682.23 L1527.14 1672.41 L1530.5 1683.1 L1533.86 1680.27 L1537.22 1687.19 L1540.58 1683.91 L1543.94 1680.89 L1547.3 1683.31 L1550.66 1681.85 L1554.02 1682.72 L1557.38 1686.27 L1560.74 1681.28 L1564.09 1685.68 L1567.45 1677.14 L1570.81 1684.73 L1574.17 1680.95 L1577.53 1683.15 L1580.89 1680.13 L1584.25 1685.1 L1587.61 1680.02 L1590.97 1683.61 L1594.33 1679.2 L1597.69 1681.26 L1601.04 1682.81 L1604.4 1685.76 L1607.76 1680.84 L1611.12 1681.81 L1614.48 1678.09 L1617.84 1684.54 L1621.2 1681.58 L1624.56 1681.75 L1627.92 1682.48 L1631.28 1682.73 L1634.63 1682.83 L1637.99 1685.33 L1641.35 1686.68 L1644.71 1684.72 L1648.07 1681.59 L1651.43 1678.67 L1654.79 1680.39 L1658.15 1680.16 L1661.51 1681.05 L1664.87 1681.32 L1668.23 1682.98 L1671.58 1681.12 L1674.94 1677.94 L1678.3 1684.65 L1681.66 1685.83 L1685.02 1677.39 L1688.38 1682.87 L1691.74 1680.57 L1695.1 1680.9 L1698.46 1687.32 L1701.82 1675.96 L1705.18 1678.07 L1708.53 1683.18 L1711.89 1681.36 L1715.25 1683.37 L1718.61 1686.61 L1721.97 1684.16 L1725.33 1682.63 L1728.69 1680.28 L1732.05 1681.59 L1735.41 1683.67 L1738.77 1679.56 L1742.13 1686.32 L1745.48 1681.38 L1748.84 1680.38 L1752.2 1684.87 L1755.56 1689.66 L1758.92 1686.86 L1762.28 1683.23 L1765.64 1682.32 L1769 1679.08 L1772.36 1687.23 L1775.72 1684.04 L1779.07 1681.99 L1782.43 1684.58 L1785.79 1691.65 L1789.15 1681.54 L1792.51 1676.75 L1795.87 1680.93 L1799.23 1687.08 L1802.59 1685.48 L1805.95 1683.47 L1809.31 1676.26 L1812.67 1682.24 L1816.02 1683.86 L1819.38 1679.28 L1822.74 1684.52 L1826.1 1678.34 L1829.46 1686.47 L1832.82 1686.64 L1836.18 1685.95 L1839.54 1686.83 L1842.9 1688.2 L1846.26 1684.12 L1849.62 1684.23 L1852.97 1670.65 L1856.33 1659.67 L1859.69 1652.83 L1862.05 1668.14 L1865.14 1698.09 L1868.23 1711.27 L1870.54 1721.41 L1874.4 1746.13 L1878.26 1772.13 L1882.12 1763.26 L1885.99 1787.34 L1888.3 1780.5 L1891.39 1809.08 L1895.25 1780.5 L1898.34 1796.66 L1901.43 1851.65 L1904.9 1769.24 L1909.15 1769.71" fill="none" stroke="#44ee22" stroke-width="1.9" stroke-linejoin="round" marker-start="url(#mG)" marker-mid="url(#mG)" marker-end="url(#mG)"/>
<path d="M1399.5 1627.99 L1402.86 1555.01 L1406.22 1561.46 L1409.58 1563.83 L1412.94 1564.78 L1416.3 1564.46 L1419.65 1565.22 L1423.01 1564.29 L1426.37 1564.88 L1429.73 1565.22 L1433.09 1564.85 L1436.45 1564.59 L1439.81 1564.24 L1443.17 1565.34 L1446.53 1565.14 L1449.89 1566.07 L1453.25 1563.62 L1456.6 1563.75 L1459.96 1565.09 L1463.32 1565.56 L1466.68 1566.54 L1470.04 1565.74 L1473.4 1566.07 L1476.76 1564.8 L1480.12 1566.75 L1483.48 1567.96 L1486.84 1569.44 L1490.19 1566.27 L1493.55 1567.29 L1496.91 1568.78 L1500.27 1567.31 L1503.63 1568.8 L1506.99 1564.61 L1510.35 1566.57 L1513.71 1567.03 L1517.07 1567.66 L1520.43 1569.29 L1523.79 1567.63 L1527.14 1568.82 L1530.5 1567.06 L1533.86 1569.32 L1537.22 1568.32 L1540.58 1566.57 L1543.94 1566.23 L1547.3 1568.57 L1550.66 1568.87 L1554.02 1566.89 L1557.38 1566.92 L1560.74 1568.45 L1564.09 1568.22 L1567.45 1568.23 L1570.81 1568.65 L1574.17 1568.24 L1577.53 1566.65 L1580.89 1567.12 L1584.25 1566.01 L1587.61 1567.78 L1590.97 1567.83 L1594.33 1568.54 L1597.69 1567.84 L1601.04 1568.83 L1604.4 1569.23 L1607.76 1567.2 L1611.12 1566.59 L1614.48 1567.1 L1617.84 1566.7 L1621.2 1567.6 L1624.56 1568.41 L1627.92 1567.76 L1631.28 1568.15 L1634.63 1568.76 L1637.99 1569.25 L1641.35 1569.09 L1644.71 1567.88 L1648.07 1567.76 L1651.43 1568.29 L1654.79 1566.73 L1658.15 1567.77 L1661.51 1567.44 L1664.87 1566.93 L1668.23 1568.62 L1671.58 1569.58 L1674.94 1567.34 L1678.3 1568.54 L1681.66 1566.9 L1685.02 1567.71 L1688.38 1567.17 L1691.74 1567.38 L1695.1 1569.74 L1698.46 1567.44 L1701.82 1568.6 L1705.18 1568.67 L1708.53 1568.42 L1711.89 1567.43 L1715.25 1567.35 L1718.61 1567.25 L1721.97 1569.47 L1725.33 1568.59 L1728.69 1570.08 L1732.05 1568.21 L1735.41 1567.64 L1738.77 1568.78 L1742.13 1567.95 L1745.48 1567.97 L1748.84 1567.34 L1752.2 1568.86 L1755.56 1568.88 L1758.92 1568.83 L1762.28 1566.77 L1765.64 1567.32 L1769 1568.33 L1772.36 1568.06 L1775.72 1568.16 L1779.07 1568.09 L1782.43 1568.44 L1785.79 1568.54 L1789.15 1569 L1792.51 1568.2 L1795.87 1566.01 L1799.23 1566.63 L1802.59 1566.72 L1805.95 1566.66 L1809.31 1566.13 L1812.67 1565.59 L1816.02 1566.12 L1819.38 1565.3 L1822.74 1565.16 L1826.1 1565.87 L1829.46 1565.8 L1832.82 1565.87 L1836.18 1565.82 L1839.54 1564.1 L1842.9 1566.68 L1846.26 1564.85 L1849.62 1564.38 L1852.97 1561.42 L1856.33 1572.4 L1859.69 1583.25 L1862.82 1611.73 L1865.91 1652.93 L1869 1665.14 L1872.09 1674.98 L1876.72 1681.52 L1882.9 1680.64 L1887.53 1688.36 L1892.16 1701.73 L1897.57 1689.44 L1902.97 1703.3 L1909.15 1704.93" fill="none" stroke="#f0833a" stroke-width="1.9" stroke-linejoin="round" marker-start="url(#mO)" marker-mid="url(#mO)" marker-end="url(#mO)"/>
<path d="M1399.5 1720.14 L1402.86 1543.84 L1406.22 1539.46 L1409.58 1538.95 L1412.94 1538.22 L1416.3 1538.9 L1419.65 1539.02 L1423.01 1539.31 L1426.37 1538.95 L1429.73 1538.22 L1433.09 1539.07 L1436.45 1539.55 L1439.81 1539.6 L1443.17 1539.46 L1446.53 1539.62 L1449.89 1537.91 L1453.25 1538.38 L1456.6 1538.75 L1459.96 1537.58 L1463.32 1539.26 L1466.68 1538.75 L1470.04 1539.16 L1473.4 1541.19 L1476.76 1541.63 L1480.12 1541.24 L1483.48 1540.04 L1486.84 1539.81 L1490.19 1541.55 L1493.55 1540.04 L1496.91 1541.05 L1500.27 1541.09 L1503.63 1541.23 L1506.99 1541.11 L1510.35 1542.15 L1513.71 1541.64 L1517.07 1541.83 L1520.43 1540.7 L1523.79 1539.65 L1527.14 1539.25 L1530.5 1541.36 L1533.86 1542.33 L1537.22 1541.48 L1540.58 1541.87 L1543.94 1539.93 L1547.3 1540.92 L1550.66 1541.83 L1554.02 1540.74 L1557.38 1541.05 L1560.74 1542.54 L1564.09 1541.84 L1567.45 1541.68 L1570.81 1541.54 L1574.17 1541.5 L1577.53 1541.85 L1580.89 1541.53 L1584.25 1542.08 L1587.61 1542.33 L1590.97 1540.74 L1594.33 1541.55 L1597.69 1541.53 L1601.04 1542.94 L1604.4 1542.01 L1607.76 1541.38 L1611.12 1542.84 L1614.48 1541.26 L1617.84 1542.3 L1621.2 1541.8 L1624.56 1542.2 L1627.92 1541.99 L1631.28 1541.36 L1634.63 1542.46 L1637.99 1541.14 L1641.35 1542.74 L1644.71 1542.85 L1648.07 1541.75 L1651.43 1542.97 L1654.79 1542.51 L1658.15 1541.66 L1661.51 1541.46 L1664.87 1543.49 L1668.23 1541.96 L1671.58 1541.05 L1674.94 1541.52 L1678.3 1542.5 L1681.66 1542.76 L1685.02 1542.57 L1688.38 1543.16 L1691.74 1542.57 L1695.1 1542.53 L1698.46 1542.51 L1701.82 1541.63 L1705.18 1542.59 L1708.53 1543.43 L1711.89 1541.75 L1715.25 1543.2 L1718.61 1542.79 L1721.97 1542.59 L1725.33 1542.74 L1728.69 1543.2 L1732.05 1542.7 L1735.41 1541.07 L1738.77 1542.97 L1742.13 1542.66 L1745.48 1541.82 L1748.84 1542.09 L1752.2 1542.09 L1755.56 1542.03 L1758.92 1543.96 L1762.28 1543.22 L1765.64 1542.56 L1769 1542.33 L1772.36 1541.8 L1775.72 1542.37 L1779.07 1542.86 L1782.43 1542.68 L1785.79 1542.86 L1789.15 1542.49 L1792.51 1542.14 L1795.87 1542.77 L1799.23 1543.03 L1802.59 1543 L1805.95 1541.62 L1809.31 1541.44 L1812.67 1541.58 L1816.02 1541.61 L1819.38 1541.56 L1822.74 1542.07 L1826.1 1541.56 L1829.46 1542.66 L1832.82 1542.03 L1836.18 1542.33 L1839.54 1541.28 L1842.9 1542.1 L1846.26 1541.73 L1849.62 1539.01 L1852.97 1531.47 L1856.33 1521.68 L1859.69 1518.64 L1862.82 1526.79 L1866.68 1552.78 L1870.54 1573.41 L1874.4 1588.62 L1878.26 1602 L1882.12 1612.08 L1885.99 1619.41 L1890.62 1626.94 L1897.57 1622.06 L1902.97 1634.41 L1909.15 1636.36" fill="none" stroke="#ff3be6" stroke-width="1.9" stroke-linejoin="round" marker-start="url(#mP)" marker-mid="url(#mP)" marker-end="url(#mP)"/>
</g>
<rect x="1399.5" y="1415.9" width="502.5" height="431.8" fill="none" stroke="#000" stroke-width="1.8"/>
<line x1="1399.5" y1="1847.7" x2="1399.5" y2="1855.7" stroke="#000" stroke-width="1.8"/>
<text x="1399.5" y="1883.2" font-size="26.5" text-anchor="middle">0</text>
<line x1="1553.94" y1="1847.7" x2="1553.94" y2="1855.7" stroke="#000" stroke-width="1.8"/>
<text x="1553.94" y="1883.2" font-size="26.5" text-anchor="middle">200</text>
<line x1="1708.38" y1="1847.7" x2="1708.38" y2="1855.7" stroke="#000" stroke-width="1.8"/>
<text x="1708.38" y="1883.2" font-size="26.5" text-anchor="middle">400</text>
<line x1="1862.82" y1="1847.7" x2="1862.82" y2="1855.7" stroke="#000" stroke-width="1.8"/>
<text x="1862.82" y="1883.2" font-size="26.5" text-anchor="middle">600</text>
<line x1="1476.72" y1="1847.7" x2="1476.72" y2="1852.2" stroke="#000" stroke-width="1.3"/>
<line x1="1631.16" y1="1847.7" x2="1631.16" y2="1852.2" stroke="#000" stroke-width="1.3"/>
<line x1="1785.6" y1="1847.7" x2="1785.6" y2="1852.2" stroke="#000" stroke-width="1.3"/>
<line x1="1391.5" y1="1847.7" x2="1399.5" y2="1847.7" stroke="#000" stroke-width="1.8"/>
<text x="1387.3" y="1858.1" font-size="26.6" text-anchor="end">10<tspan dy="-8.6" font-size="15">0</tspan><tspan dy="8.6" font-size="1">&#8203;</tspan></text>
<line x1="1395" y1="1821.7" x2="1399.5" y2="1821.7" stroke="#000" stroke-width="1.2"/>
<line x1="1395" y1="1806.5" x2="1399.5" y2="1806.5" stroke="#000" stroke-width="1.2"/>
<line x1="1395" y1="1795.71" x2="1399.5" y2="1795.71" stroke="#000" stroke-width="1.2"/>
<line x1="1395" y1="1787.34" x2="1399.5" y2="1787.34" stroke="#000" stroke-width="1.2"/>
<line x1="1395" y1="1780.5" x2="1399.5" y2="1780.5" stroke="#000" stroke-width="1.2"/>
<line x1="1395" y1="1774.72" x2="1399.5" y2="1774.72" stroke="#000" stroke-width="1.2"/>
<line x1="1395" y1="1769.71" x2="1399.5" y2="1769.71" stroke="#000" stroke-width="1.2"/>
<line x1="1395" y1="1765.29" x2="1399.5" y2="1765.29" stroke="#000" stroke-width="1.2"/>
<line x1="1391.5" y1="1761.34" x2="1399.5" y2="1761.34" stroke="#000" stroke-width="1.8"/>
<text x="1387.3" y="1771.74" font-size="26.6" text-anchor="end">10<tspan dy="-8.6" font-size="15">1</tspan><tspan dy="8.6" font-size="1">&#8203;</tspan></text>
<line x1="1395" y1="1735.34" x2="1399.5" y2="1735.34" stroke="#000" stroke-width="1.2"/>
<line x1="1395" y1="1720.14" x2="1399.5" y2="1720.14" stroke="#000" stroke-width="1.2"/>
<line x1="1395" y1="1709.35" x2="1399.5" y2="1709.35" stroke="#000" stroke-width="1.2"/>
<line x1="1395" y1="1700.98" x2="1399.5" y2="1700.98" stroke="#000" stroke-width="1.2"/>
<line x1="1395" y1="1694.14" x2="1399.5" y2="1694.14" stroke="#000" stroke-width="1.2"/>
<line x1="1395" y1="1688.36" x2="1399.5" y2="1688.36" stroke="#000" stroke-width="1.2"/>
<line x1="1395" y1="1683.35" x2="1399.5" y2="1683.35" stroke="#000" stroke-width="1.2"/>
<line x1="1395" y1="1678.93" x2="1399.5" y2="1678.93" stroke="#000" stroke-width="1.2"/>
<line x1="1391.5" y1="1674.98" x2="1399.5" y2="1674.98" stroke="#000" stroke-width="1.8"/>
<text x="1387.3" y="1685.38" font-size="26.6" text-anchor="end">10<tspan dy="-8.6" font-size="15">2</tspan><tspan dy="8.6" font-size="1">&#8203;</tspan></text>
<line x1="1395" y1="1648.98" x2="1399.5" y2="1648.98" stroke="#000" stroke-width="1.2"/>
<line x1="1395" y1="1633.78" x2="1399.5" y2="1633.78" stroke="#000" stroke-width="1.2"/>
<line x1="1395" y1="1622.99" x2="1399.5" y2="1622.99" stroke="#000" stroke-width="1.2"/>
<line x1="1395" y1="1614.62" x2="1399.5" y2="1614.62" stroke="#000" stroke-width="1.2"/>
<line x1="1395" y1="1607.78" x2="1399.5" y2="1607.78" stroke="#000" stroke-width="1.2"/>
<line x1="1395" y1="1602" x2="1399.5" y2="1602" stroke="#000" stroke-width="1.2"/>
<line x1="1395" y1="1596.99" x2="1399.5" y2="1596.99" stroke="#000" stroke-width="1.2"/>
<line x1="1395" y1="1592.57" x2="1399.5" y2="1592.57" stroke="#000" stroke-width="1.2"/>
<line x1="1391.5" y1="1588.62" x2="1399.5" y2="1588.62" stroke="#000" stroke-width="1.8"/>
<text x="1387.3" y="1599.02" font-size="26.6" text-anchor="end">10<tspan dy="-8.6" font-size="15">3</tspan><tspan dy="8.6" font-size="1">&#8203;</tspan></text>
<line x1="1395" y1="1562.62" x2="1399.5" y2="1562.62" stroke="#000" stroke-width="1.2"/>
<line x1="1395" y1="1547.42" x2="1399.5" y2="1547.42" stroke="#000" stroke-width="1.2"/>
<line x1="1395" y1="1536.63" x2="1399.5" y2="1536.63" stroke="#000" stroke-width="1.2"/>
<line x1="1395" y1="1528.26" x2="1399.5" y2="1528.26" stroke="#000" stroke-width="1.2"/>
<line x1="1395" y1="1521.42" x2="1399.5" y2="1521.42" stroke="#000" stroke-width="1.2"/>
<line x1="1395" y1="1515.64" x2="1399.5" y2="1515.64" stroke="#000" stroke-width="1.2"/>
<line x1="1395" y1="1510.63" x2="1399.5" y2="1510.63" stroke="#000" stroke-width="1.2"/>
<line x1="1395" y1="1506.21" x2="1399.5" y2="1506.21" stroke="#000" stroke-width="1.2"/>
<line x1="1391.5" y1="1502.26" x2="1399.5" y2="1502.26" stroke="#000" stroke-width="1.8"/>
<text x="1387.3" y="1512.66" font-size="26.6" text-anchor="end">10<tspan dy="-8.6" font-size="15">4</tspan><tspan dy="8.6" font-size="1">&#8203;</tspan></text>
<line x1="1395" y1="1476.26" x2="1399.5" y2="1476.26" stroke="#000" stroke-width="1.2"/>
<line x1="1395" y1="1461.06" x2="1399.5" y2="1461.06" stroke="#000" stroke-width="1.2"/>
<line x1="1395" y1="1450.27" x2="1399.5" y2="1450.27" stroke="#000" stroke-width="1.2"/>
<line x1="1395" y1="1441.9" x2="1399.5" y2="1441.9" stroke="#000" stroke-width="1.2"/>
<line x1="1395" y1="1435.06" x2="1399.5" y2="1435.06" stroke="#000" stroke-width="1.2"/>
<line x1="1395" y1="1429.28" x2="1399.5" y2="1429.28" stroke="#000" stroke-width="1.2"/>
<line x1="1395" y1="1424.27" x2="1399.5" y2="1424.27" stroke="#000" stroke-width="1.2"/>
<line x1="1395" y1="1419.85" x2="1399.5" y2="1419.85" stroke="#000" stroke-width="1.2"/>
<line x1="1391.5" y1="1415.9" x2="1399.5" y2="1415.9" stroke="#000" stroke-width="1.8"/>
<text x="1387.3" y="1426.3" font-size="26.6" text-anchor="end">10<tspan dy="-8.6" font-size="15">5</tspan><tspan dy="8.6" font-size="1">&#8203;</tspan></text>
<text x="1650.9" y="1920.7" font-size="26.5" text-anchor="middle">Depth (nm)</text>
<text font-size="26.5" text-anchor="middle" transform="translate(1332 1631.5) rotate(-90)">Counts</text>
<text x="1306.2" y="1428.8" font-size="32" font-weight="bold">l</text>
<line x1="1418.7" y1="1443.1" x2="1478.4" y2="1443.1" stroke="#f0833a" stroke-width="1.9"/><rect x="1443.55" y="1438.1" width="10" height="10" fill="#fff" stroke="#f0833a" stroke-width="1.9"/><text x="1485.7" y="1452.9" font-size="26.6">Cu</text>
<line x1="1535.4" y1="1443.1" x2="1595.1" y2="1443.1" stroke="#44ee22" stroke-width="1.9"/><rect x="1560.25" y="1438.1" width="10" height="10" fill="#fff" stroke="#44ee22" stroke-width="1.9"/><text x="1601.8" y="1452.9" font-size="26.6">Ni</text>
<line x1="1418.7" y1="1478.6" x2="1478.4" y2="1478.6" stroke="#ff3be6" stroke-width="1.9"/><rect x="1443.55" y="1473.6" width="10" height="10" fill="#fff" stroke="#ff3be6" stroke-width="1.9"/><text x="1485.7" y="1488.4" font-size="26.6">Pt</text>
<line x1="1535.4" y1="1478.6" x2="1595.1" y2="1478.6" stroke="#72f0fa" stroke-width="1.9"/><rect x="1560.25" y="1473.6" width="10" height="10" fill="#fff" stroke="#72f0fa" stroke-width="1.9"/><text x="1601.8" y="1488.4" font-size="26.6">Al</text>
</g>
</svg>
</body></html>
